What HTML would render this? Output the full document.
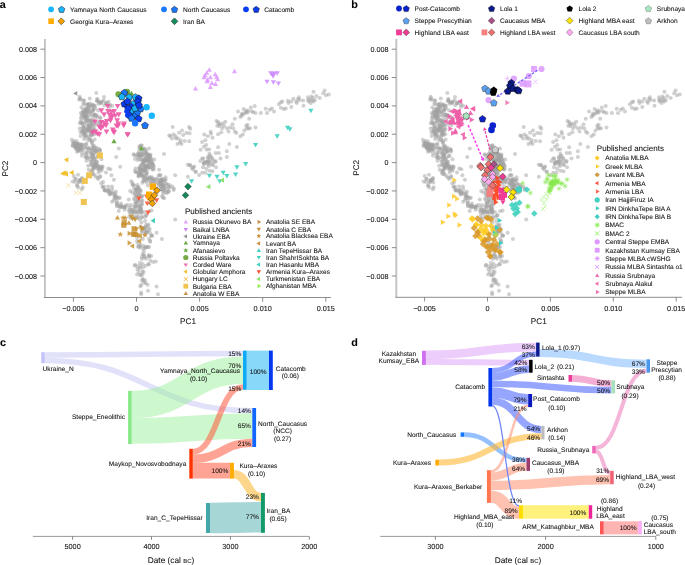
<!DOCTYPE html>
<html><head><meta charset="utf-8"><style>
html,body{margin:0;padding:0;background:#fff;width:685px;height:565px;overflow:hidden}
svg{display:block;will-change:transform}
text{font-family:"Liberation Sans",sans-serif;text-rendering:geometricPrecision;stroke:#111;stroke-width:0.12px;stroke-opacity:0.6}
</style></head><body>
<svg width="685" height="565" viewBox="0 0 685 565">
<line x1="44.90" y1="39.00" x2="44.90" y2="297.50" stroke="#c2c2c2" stroke-width="1.9"/>
<line x1="44.00" y1="297.50" x2="331.00" y2="297.50" stroke="#8c8c8c" stroke-width="1.0"/>
<line x1="40.40" y1="49.20" x2="44.70" y2="49.20" stroke="#6e6e6e" stroke-width="0.8"/>
<text x="37.00" y="51.79" font-size="7.2" text-anchor="end" fill="#111111">0.008</text>
<line x1="40.40" y1="77.55" x2="44.70" y2="77.55" stroke="#6e6e6e" stroke-width="0.8"/>
<text x="37.00" y="80.14" font-size="7.2" text-anchor="end" fill="#111111">0.006</text>
<line x1="40.40" y1="105.90" x2="44.70" y2="105.90" stroke="#6e6e6e" stroke-width="0.8"/>
<text x="37.00" y="108.49" font-size="7.2" text-anchor="end" fill="#111111">0.004</text>
<line x1="40.40" y1="134.25" x2="44.70" y2="134.25" stroke="#6e6e6e" stroke-width="0.8"/>
<text x="37.00" y="136.84" font-size="7.2" text-anchor="end" fill="#111111">0.002</text>
<line x1="40.40" y1="162.60" x2="44.70" y2="162.60" stroke="#6e6e6e" stroke-width="0.8"/>
<text x="37.00" y="165.19" font-size="7.2" text-anchor="end" fill="#111111">0</text>
<line x1="40.40" y1="190.95" x2="44.70" y2="190.95" stroke="#6e6e6e" stroke-width="0.8"/>
<text x="37.00" y="193.54" font-size="7.2" text-anchor="end" fill="#111111">−0.002</text>
<line x1="40.40" y1="219.30" x2="44.70" y2="219.30" stroke="#6e6e6e" stroke-width="0.8"/>
<text x="37.00" y="221.89" font-size="7.2" text-anchor="end" fill="#111111">−0.004</text>
<line x1="40.40" y1="247.65" x2="44.70" y2="247.65" stroke="#6e6e6e" stroke-width="0.8"/>
<text x="37.00" y="250.24" font-size="7.2" text-anchor="end" fill="#111111">−0.006</text>
<line x1="40.40" y1="276.00" x2="44.70" y2="276.00" stroke="#6e6e6e" stroke-width="0.8"/>
<text x="37.00" y="278.59" font-size="7.2" text-anchor="end" fill="#111111">−0.008</text>
<line x1="73.40" y1="297.50" x2="73.40" y2="301.70" stroke="#6e6e6e" stroke-width="0.8"/>
<text x="73.40" y="310.71" font-size="7.25" text-anchor="middle" fill="#111111">−0.005</text>
<line x1="136.50" y1="297.50" x2="136.50" y2="301.70" stroke="#6e6e6e" stroke-width="0.8"/>
<text x="136.50" y="310.71" font-size="7.25" text-anchor="middle" fill="#111111">0</text>
<line x1="199.60" y1="297.50" x2="199.60" y2="301.70" stroke="#6e6e6e" stroke-width="0.8"/>
<text x="199.60" y="310.71" font-size="7.25" text-anchor="middle" fill="#111111">0.005</text>
<line x1="262.70" y1="297.50" x2="262.70" y2="301.70" stroke="#6e6e6e" stroke-width="0.8"/>
<text x="262.70" y="310.71" font-size="7.25" text-anchor="middle" fill="#111111">0.010</text>
<line x1="325.80" y1="297.50" x2="325.80" y2="301.70" stroke="#6e6e6e" stroke-width="0.8"/>
<text x="325.80" y="310.71" font-size="7.25" text-anchor="middle" fill="#111111">0.015</text>
<text x="188.00" y="323.80" font-size="8.2" text-anchor="middle" fill="#111111">PC1</text>
<text x="0" y="0" font-size="8.2" text-anchor="middle" fill="#111111" transform="translate(7.60,168.60) rotate(-90)">PC2</text>
<line x1="396.30" y1="39.00" x2="396.30" y2="297.30" stroke="#c2c2c2" stroke-width="1.9"/>
<line x1="395.40" y1="297.30" x2="682.20" y2="297.30" stroke="#8c8c8c" stroke-width="1.0"/>
<line x1="391.80" y1="49.20" x2="396.10" y2="49.20" stroke="#6e6e6e" stroke-width="0.8"/>
<text x="388.40" y="51.79" font-size="7.2" text-anchor="end" fill="#111111">0.008</text>
<line x1="391.80" y1="77.55" x2="396.10" y2="77.55" stroke="#6e6e6e" stroke-width="0.8"/>
<text x="388.40" y="80.14" font-size="7.2" text-anchor="end" fill="#111111">0.006</text>
<line x1="391.80" y1="105.90" x2="396.10" y2="105.90" stroke="#6e6e6e" stroke-width="0.8"/>
<text x="388.40" y="108.49" font-size="7.2" text-anchor="end" fill="#111111">0.004</text>
<line x1="391.80" y1="134.25" x2="396.10" y2="134.25" stroke="#6e6e6e" stroke-width="0.8"/>
<text x="388.40" y="136.84" font-size="7.2" text-anchor="end" fill="#111111">0.002</text>
<line x1="391.80" y1="162.60" x2="396.10" y2="162.60" stroke="#6e6e6e" stroke-width="0.8"/>
<text x="388.40" y="165.19" font-size="7.2" text-anchor="end" fill="#111111">0</text>
<line x1="391.80" y1="190.95" x2="396.10" y2="190.95" stroke="#6e6e6e" stroke-width="0.8"/>
<text x="388.40" y="193.54" font-size="7.2" text-anchor="end" fill="#111111">−0.002</text>
<line x1="391.80" y1="219.30" x2="396.10" y2="219.30" stroke="#6e6e6e" stroke-width="0.8"/>
<text x="388.40" y="221.89" font-size="7.2" text-anchor="end" fill="#111111">−0.004</text>
<line x1="391.80" y1="247.65" x2="396.10" y2="247.65" stroke="#6e6e6e" stroke-width="0.8"/>
<text x="388.40" y="250.24" font-size="7.2" text-anchor="end" fill="#111111">−0.006</text>
<line x1="391.80" y1="276.00" x2="396.10" y2="276.00" stroke="#6e6e6e" stroke-width="0.8"/>
<text x="388.40" y="278.59" font-size="7.2" text-anchor="end" fill="#111111">−0.008</text>
<line x1="424.60" y1="297.30" x2="424.60" y2="301.50" stroke="#6e6e6e" stroke-width="0.8"/>
<text x="424.60" y="310.71" font-size="7.25" text-anchor="middle" fill="#111111">−0.005</text>
<line x1="487.50" y1="297.30" x2="487.50" y2="301.50" stroke="#6e6e6e" stroke-width="0.8"/>
<text x="487.50" y="310.71" font-size="7.25" text-anchor="middle" fill="#111111">0</text>
<line x1="550.40" y1="297.30" x2="550.40" y2="301.50" stroke="#6e6e6e" stroke-width="0.8"/>
<text x="550.40" y="310.71" font-size="7.25" text-anchor="middle" fill="#111111">0.005</text>
<line x1="613.30" y1="297.30" x2="613.30" y2="301.50" stroke="#6e6e6e" stroke-width="0.8"/>
<text x="613.30" y="310.71" font-size="7.25" text-anchor="middle" fill="#111111">0.010</text>
<line x1="676.20" y1="297.30" x2="676.20" y2="301.50" stroke="#6e6e6e" stroke-width="0.8"/>
<text x="676.20" y="310.71" font-size="7.25" text-anchor="middle" fill="#111111">0.015</text>
<text x="538.80" y="323.80" font-size="8.2" text-anchor="middle" fill="#111111">PC1</text>
<text x="0" y="0" font-size="8.2" text-anchor="middle" fill="#111111" transform="translate(359.20,167.80) rotate(-90)">PC2</text>
<text x="-0.30" y="8.00" font-size="10.8" font-weight="bold" fill="#000">a</text>
<text x="351.20" y="7.90" font-size="10.8" font-weight="bold" fill="#000">b</text>
<text x="0.00" y="346.00" font-size="10.8" font-weight="bold" fill="#000">c</text>
<text x="351.20" y="346.00" font-size="10.8" font-weight="bold" fill="#000">d</text>
<circle cx="51.10" cy="9.30" r="2.90" fill="#19b5fe"/>
<polygon points="61.60,6.24 64.83,8.59 63.60,12.39 59.60,12.39 58.37,8.59" fill="#19b5fe" stroke="#1a1a1a" stroke-width="0.5"/>
<text x="70.00" y="11.68" font-size="6.6" fill="#111111">Yamnaya North Caucasus</text>
<circle cx="164.00" cy="9.30" r="2.90" fill="#1a78ff"/>
<polygon points="174.50,6.24 177.73,8.59 176.50,12.39 172.50,12.39 171.27,8.59" fill="#1a78ff" stroke="#1a1a1a" stroke-width="0.5"/>
<text x="183.00" y="11.68" font-size="6.6" fill="#111111">North Caucasus</text>
<circle cx="246.00" cy="9.30" r="2.90" fill="#0a3cf0"/>
<polygon points="256.20,6.24 259.43,8.59 258.20,12.39 254.20,12.39 252.97,8.59" fill="#0a3cf0" stroke="#1a1a1a" stroke-width="0.5"/>
<text x="264.20" y="11.68" font-size="6.6" fill="#111111">Catacomb</text>
<rect x="48.30" y="18.40" width="5.60" height="5.60" fill="#ffab00"/>
<polygon points="61.30,17.90 64.70,21.30 61.30,24.70 57.90,21.30" fill="#f5a300" stroke="#1a1a1a" stroke-width="0.5"/>
<text x="70.00" y="23.68" font-size="6.6" fill="#111111">Georgia Kura–Araxes</text>
<polygon points="174.50,17.90 177.90,21.30 174.50,24.70 171.10,21.30" fill="#138a5a" stroke="#1a1a1a" stroke-width="0.5"/>
<text x="183.00" y="23.68" font-size="6.6" fill="#111111">Iran BA</text>
<circle cx="399.00" cy="8.50" r="2.90" fill="#0a22cc"/>
<polygon points="406.20,5.44 409.43,7.79 408.20,11.59 404.20,11.59 402.97,7.79" fill="#0a22cc" stroke="#1a1a1a" stroke-width="0.4"/>
<text x="414.60" y="10.88" font-size="6.6" fill="#111111">Post-Catacomb</text>
<polygon points="406.20,17.64 409.43,19.99 408.20,23.79 404.20,23.79 402.97,19.99" fill="#5aa0f0" stroke="#333" stroke-width="0.4"/>
<text x="414.60" y="23.08" font-size="6.6" fill="#111111">Steppe Prescythian</text>
<rect x="396.10" y="29.50" width="5.80" height="5.80" fill="#f03c96"/>
<polygon points="406.20,29.00 409.60,32.40 406.20,35.80 402.80,32.40" fill="#f03c96" stroke="#222" stroke-width="0.4"/>
<text x="414.60" y="34.78" font-size="6.6" fill="#111111">Highland LBA east</text>
<polygon points="491.60,5.44 494.83,7.79 493.60,11.59 489.60,11.59 488.37,7.79" fill="#0a1a88" stroke="#111" stroke-width="0.4"/>
<text x="500.00" y="10.88" font-size="6.6" fill="#111111">Lola 1</text>
<polygon points="491.60,17.30 495.00,20.70 491.60,24.10 488.20,20.70" fill="#a8508a" stroke="#222" stroke-width="0.4"/>
<text x="500.00" y="23.08" font-size="6.6" fill="#111111">Caucasus MBA</text>
<rect x="481.50" y="29.50" width="5.80" height="5.80" fill="#f58080"/>
<polygon points="491.60,29.00 495.00,32.40 491.60,35.80 488.20,32.40" fill="#f07070" stroke="#222" stroke-width="0.4"/>
<text x="500.00" y="34.78" font-size="6.6" fill="#111111">Highland LBA west</text>
<polygon points="569.70,5.44 572.93,7.79 571.70,11.59 567.70,11.59 566.47,7.79" fill="#000000"/>
<text x="578.50" y="10.88" font-size="6.6" fill="#111111">Lola 2</text>
<polygon points="569.70,17.30 573.10,20.70 569.70,24.10 566.30,20.70" fill="#ffe400" stroke="#222" stroke-width="0.4"/>
<text x="578.50" y="23.08" font-size="6.6" fill="#111111">Highland MBA east</text>
<polygon points="569.70,29.00 573.10,32.40 569.70,35.80 566.30,32.40" fill="#ffaaf0" stroke="#444" stroke-width="0.4"/>
<text x="578.50" y="34.78" font-size="6.6" fill="#111111">Caucasus LBA south</text>
<polygon points="648.40,5.44 651.63,7.79 650.40,11.59 646.40,11.59 645.17,7.79" fill="#a8e6c0" stroke="#666" stroke-width="0.4"/>
<text x="656.80" y="10.88" font-size="6.6" fill="#111111">Srubnaya</text>
<polygon points="648.40,17.64 651.63,19.99 650.40,23.79 646.40,23.79 645.17,19.99" fill="#bdbdbd" stroke="#666" stroke-width="0.4"/>
<text x="656.80" y="23.08" font-size="6.6" fill="#111111">Arkhon</text>
<text x="185.00" y="214.30" font-size="8.0" fill="#111111">Published ancients</text>
<polygon points="185.80,219.68 187.97,223.43 183.63,223.43" fill="#e0a0f8"/>
<text x="192.70" y="224.16" font-size="6.55" fill="#111111">Russia Okunevo BA</text>
<polygon points="185.80,231.82 183.63,228.07 187.97,228.07" fill="#cc88ff"/>
<text x="192.70" y="232.06" font-size="6.55" fill="#111111">Baikal LNBA</text>
<polygon points="183.30,236.30 187.05,234.13 187.05,238.47" fill="#999999"/>
<text x="192.70" y="238.66" font-size="6.55" fill="#111111">Ukraine EBA</text>
<polygon points="185.80,240.68 187.97,244.43 183.63,244.43" fill="#6aaa44"/>
<text x="192.70" y="245.16" font-size="6.55" fill="#111111">Yamnaya</text>
<polygon points="185.80,247.70 186.51,249.42 188.37,249.57 186.96,250.78 187.39,252.58 185.80,251.62 184.21,252.58 184.64,250.78 183.23,249.57 185.09,249.42" fill="#6aaa44"/>
<text x="192.70" y="252.76" font-size="6.55" fill="#111111">Afanasievo</text>
<circle cx="185.80" cy="257.50" r="2.60" fill="#77aa44"/>
<text x="192.70" y="259.86" font-size="6.55" fill="#111111">Russia Poltavka</text>
<polygon points="185.80,267.12 183.63,263.38 187.97,263.38" fill="#f070b0"/>
<text x="192.70" y="267.36" font-size="6.55" fill="#111111">Corded Ware</text>
<polygon points="183.30,271.70 187.05,269.53 187.05,273.87" fill="#f0c030"/>
<text x="192.70" y="274.06" font-size="6.55" fill="#111111">Globular Amphora</text>
<path d="M183.70,277.00L187.90,281.20M183.70,281.20L187.90,277.00" stroke="#f0b840" stroke-width="0.95" fill="none"/>
<text x="192.70" y="281.46" font-size="6.55" fill="#111111">Hungary LC</text>
<rect x="183.40" y="283.80" width="4.80" height="4.80" fill="#f0c450"/>
<text x="192.70" y="288.56" font-size="6.55" fill="#111111">Bulgaria EBA</text>
<polygon points="185.80,291.18 187.97,294.93 183.63,294.93" fill="#c89040"/>
<text x="192.70" y="295.66" font-size="6.55" fill="#111111">Anatolia W EBA</text>
<polygon points="261.30,221.90 257.55,224.07 257.55,219.73" fill="#c89040"/>
<text x="265.90" y="224.26" font-size="6.55" fill="#111111">Anatolia SE EBA</text>
<polygon points="258.80,231.53 256.63,227.78 260.97,227.78" fill="#c89040"/>
<text x="265.90" y="231.76" font-size="6.55" fill="#111111">Anatolia C EBA</text>
<polygon points="258.80,233.40 259.49,235.05 261.27,235.20 259.91,236.36 260.33,238.10 258.80,237.17 257.27,238.10 257.69,236.36 256.33,235.20 258.11,235.05" fill="#c89040"/>
<text x="265.90" y="238.36" font-size="6.55" fill="#111111">Anatolia Blacksea EBA</text>
<polygon points="256.30,243.40 260.05,241.23 260.05,245.57" fill="#c89040"/>
<text x="265.90" y="245.76" font-size="6.55" fill="#111111">Levant BA</text>
<polygon points="258.80,248.18 260.97,251.93 256.63,251.93" fill="#40d0c0"/>
<text x="265.90" y="252.66" font-size="6.55" fill="#111111">Iran TepeHissar BA</text>
<polygon points="258.80,259.62 256.63,255.88 260.97,255.88" fill="#40d0c0"/>
<text x="265.90" y="259.86" font-size="6.55" fill="#111111">Iran ShahrISokhta BA</text>
<polygon points="256.30,264.60 260.05,262.43 260.05,266.77" fill="#40d0c0"/>
<text x="265.90" y="266.96" font-size="6.55" fill="#111111">Iran Hasanlu MBA</text>
<polygon points="258.80,273.93 256.63,270.18 260.97,270.18" fill="#ff5030"/>
<text x="265.90" y="274.16" font-size="6.55" fill="#111111">Armenia Kura–Araxes</text>
<polygon points="256.30,279.00 260.05,276.83 260.05,281.17" fill="#90e070"/>
<text x="265.90" y="281.36" font-size="6.55" fill="#111111">Turkmenistan EBA</text>
<polygon points="261.30,286.10 257.55,288.27 257.55,283.93" fill="#90ee50"/>
<text x="265.90" y="288.46" font-size="6.55" fill="#111111">Afghanistan MBA</text>
<text x="596.80" y="151.00" font-size="8.0" fill="#111111">Published ancients</text>
<polygon points="597.20,155.40 599.80,158.00 597.20,160.60 594.60,158.00" fill="#ffcc33"/>
<text x="605.20" y="160.36" font-size="6.55" fill="#111111">Anatolia MLBA</text>
<polygon points="599.70,166.38 595.95,168.55 595.95,164.21" fill="#ffcc33"/>
<text x="605.20" y="168.74" font-size="6.55" fill="#111111">Greek MLBA</text>
<polygon points="597.20,172.16 599.80,174.76 597.20,177.36 594.60,174.76" fill="#cc9944"/>
<text x="605.20" y="177.12" font-size="6.55" fill="#111111">Levant MLBA</text>
<polygon points="594.70,183.14 598.45,180.97 598.45,185.31" fill="#ff5544"/>
<text x="605.20" y="185.50" font-size="6.55" fill="#111111">Armenia MBA</text>
<polygon points="599.70,191.52 595.95,193.69 595.95,189.35" fill="#ff6655"/>
<text x="605.20" y="193.88" font-size="6.55" fill="#111111">Armenia LBA</text>
<circle cx="597.20" cy="199.90" r="2.60" fill="#44d0c0"/>
<text x="605.20" y="202.26" font-size="6.55" fill="#111111">Iran HajjiFiruz IA</text>
<polygon points="599.70,208.28 595.95,210.45 595.95,206.11" fill="#44d0c0"/>
<text x="605.20" y="210.64" font-size="6.55" fill="#111111">IRN DinkhaTepe BIA A</text>
<polygon points="597.20,214.06 599.80,216.66 597.20,219.26 594.60,216.66" fill="#44d0c0"/>
<text x="605.20" y="219.02" font-size="6.55" fill="#111111">IRN DinkhaTepe BIA B</text>
<path d="M594.70,225.04L599.70,225.04M595.43,223.27L598.97,226.81M597.20,222.54L597.20,227.54M598.97,223.27L595.43,226.81" stroke="#88ee55" stroke-width="0.95" fill="none"/>
<text x="605.20" y="227.40" font-size="6.55" fill="#111111">BMAC</text>
<path d="M595.20,231.42L599.20,235.42M595.20,235.42L599.20,231.42" stroke="#88ee55" stroke-width="0.95" fill="none"/>
<text x="605.20" y="235.78" font-size="6.55" fill="#111111">BMAC 2</text>
<circle cx="597.20" cy="241.80" r="2.60" fill="#dd99ff"/>
<text x="605.20" y="244.16" font-size="6.55" fill="#111111">Central Steppe EMBA</text>
<rect x="594.80" y="247.78" width="4.80" height="4.80" fill="#dd99ff"/>
<text x="605.20" y="252.54" font-size="6.55" fill="#111111">Kazakhstan Kumsay EBA</text>
<path d="M594.70,258.56L599.70,258.56M595.43,256.79L598.97,260.33M597.20,256.06L597.20,261.06M598.97,256.79L595.43,260.33" stroke="#dd99ff" stroke-width="0.95" fill="none"/>
<text x="605.20" y="260.92" font-size="6.55" fill="#111111">Steppe MLBA cWSHG</text>
<path d="M595.20,264.94L599.20,268.94M595.20,268.94L599.20,264.94" stroke="#dd99ff" stroke-width="0.95" fill="none"/>
<text x="605.20" y="269.30" font-size="6.55" fill="#111111">Russia MLBA Sintashta o1</text>
<polygon points="597.20,273.19 599.37,276.94 595.03,276.94" fill="#f070b0"/>
<text x="605.20" y="277.68" font-size="6.55" fill="#111111">Russia Srubnaya</text>
<polygon points="594.70,283.70 598.45,281.53 598.45,285.87" fill="#f070b0"/>
<text x="605.20" y="286.06" font-size="6.55" fill="#111111">Srubnaya Alakul</text>
<polygon points="599.70,292.08 595.95,294.25 595.95,289.91" fill="#f070b0"/>
<text x="605.20" y="294.44" font-size="6.55" fill="#111111">Steppe MLBA</text>
<line x1="32.90" y1="536.40" x2="309.30" y2="536.40" stroke="#9a9a9a" stroke-width="1.0"/>
<line x1="72.60" y1="536.40" x2="72.60" y2="539.80" stroke="#6e6e6e" stroke-width="0.8"/>
<text x="72.60" y="549.33" font-size="7.3" text-anchor="middle" fill="#111111">5000</text>
<line x1="151.50" y1="536.40" x2="151.50" y2="539.80" stroke="#6e6e6e" stroke-width="0.8"/>
<text x="151.50" y="549.33" font-size="7.3" text-anchor="middle" fill="#111111">4000</text>
<line x1="230.40" y1="536.40" x2="230.40" y2="539.80" stroke="#6e6e6e" stroke-width="0.8"/>
<text x="230.40" y="549.33" font-size="7.3" text-anchor="middle" fill="#111111">3000</text>
<line x1="309.30" y1="536.40" x2="309.30" y2="539.80" stroke="#6e6e6e" stroke-width="0.8"/>
<text x="309.30" y="549.33" font-size="7.3" text-anchor="middle" fill="#111111">2000</text>
<text x="171" y="563.2" font-size="8.3" text-anchor="middle" fill="#111111">Date (cal <tspan font-size="5.9">BC</tspan>)</text>
<path d="M44.80,354.90C143.90,354.90 143.90,353.45 243.00,353.45" fill="none" stroke="#b8b8f4" stroke-width="5.55" stroke-opacity="0.42"/>
<path d="M44.80,360.40C148.55,360.40 148.55,410.75 252.30,410.75" fill="none" stroke="#b8b8f4" stroke-width="5.55" stroke-opacity="0.42"/>
<path d="M131.70,404.50C187.35,404.50 187.35,370.25 243.00,370.25" fill="none" stroke="#9cf09c" stroke-width="27.45" stroke-opacity="0.5"/>
<path d="M131.70,431.00C192.00,431.00 192.00,426.05 252.30,426.05" fill="none" stroke="#9cf09c" stroke-width="25.55" stroke-opacity="0.5"/>
<path d="M192.80,451.70C217.90,451.70 217.90,387.00 243.00,387.00" fill="none" stroke="#ff5a3c" stroke-width="5.70" stroke-opacity="0.55"/>
<path d="M192.80,458.70C222.55,458.70 222.55,442.80 252.30,442.80" fill="none" stroke="#ff5a3c" stroke-width="8.30" stroke-opacity="0.55"/>
<path d="M192.80,462.80C211.55,462.80 211.55,462.80 230.30,462.80L230.30,478.60C211.55,478.60 211.55,478.60 192.80,478.60Z" fill="#ff5a3c" fill-opacity="0.55"/>
<path d="M233.90,474.25C247.45,474.25 247.45,497.25 261.00,497.25" fill="none" stroke="#fdc45a" stroke-width="8.70" stroke-opacity="0.7"/>
<path d="M210.00,518.00C235.50,518.00 235.50,517.20 261.00,517.20" fill="none" stroke="#a6d6d6" stroke-width="30.60"/>
<rect x="246.70" y="350.60" width="22.30" height="39.40" fill="#88d8fa"/>
<rect x="41.20" y="352.20" width="3.60" height="11.00" fill="#c4c4f6"/>
<rect x="128.10" y="391.00" width="3.60" height="53.00" fill="#86e886"/>
<rect x="189.30" y="448.80" width="3.50" height="29.80" fill="#ff3300"/>
<rect x="243.00" y="350.60" width="3.70" height="39.20" fill="#0faaf5"/>
<rect x="269.00" y="350.60" width="3.80" height="39.40" fill="#0537ef"/>
<rect x="252.30" y="408.00" width="3.80" height="39.00" fill="#1166ff"/>
<rect x="230.10" y="462.80" width="3.80" height="15.80" fill="#ffab00"/>
<rect x="206.00" y="503.00" width="4.00" height="30.00" fill="#44a6a6"/>
<rect x="261.00" y="492.90" width="3.90" height="39.90" fill="#129a68"/>
<text x="42.60" y="371.27" font-size="6.58" fill="#111111">Ukraine_N</text>
<text x="125.00" y="419.47" font-size="6.58" text-anchor="end" fill="#111111">Steppe_Eneolithic</text>
<text x="200.00" y="373.07" font-size="6.58" text-anchor="middle" fill="#111111">Yamnaya_North_Caucasus</text>
<text x="198.50" y="380.67" font-size="6.58" text-anchor="middle" fill="#111111">(0.10)</text>
<text x="290.80" y="370.67" font-size="6.58" text-anchor="middle" fill="#111111">Catacomb</text>
<text x="290.30" y="378.47" font-size="6.58" text-anchor="middle" fill="#111111">(0.06)</text>
<text x="282.60" y="425.87" font-size="6.58" text-anchor="middle" fill="#111111">North_Caucasus</text>
<text x="282.60" y="433.37" font-size="6.58" text-anchor="middle" fill="#111111">(NCC)</text>
<text x="282.60" y="440.77" font-size="6.58" text-anchor="middle" fill="#111111">(0.27)</text>
<text x="186.30" y="465.97" font-size="6.58" text-anchor="end" fill="#111111">Maykop_Novosvobodnaya</text>
<text x="258.40" y="467.77" font-size="6.58" text-anchor="middle" fill="#111111">Kura–Araxes</text>
<text x="256.50" y="475.67" font-size="6.58" text-anchor="middle" fill="#111111">(0.10)</text>
<text x="278.40" y="513.27" font-size="6.58" text-anchor="middle" fill="#111111">Iran_BA</text>
<text x="278.00" y="521.17" font-size="6.58" text-anchor="middle" fill="#111111">(0.65)</text>
<text x="202.60" y="520.37" font-size="6.58" text-anchor="end" fill="#111111">Iran_C_TepeHissar</text>
<text x="241.30" y="356.27" font-size="6.58" text-anchor="end" fill="#111111">15%</text>
<text x="241.30" y="367.97" font-size="6.58" text-anchor="end" fill="#111111">70%</text>
<text x="241.30" y="391.07" font-size="6.58" text-anchor="end" fill="#111111">15%</text>
<text x="250.90" y="412.77" font-size="6.58" text-anchor="end" fill="#111111">14%</text>
<text x="250.90" y="427.77" font-size="6.58" text-anchor="end" fill="#111111">65%</text>
<text x="250.90" y="445.87" font-size="6.58" text-anchor="end" fill="#111111">21%</text>
<text x="228.30" y="473.37" font-size="6.58" text-anchor="end" fill="#111111">100%</text>
<text x="258.90" y="498.97" font-size="6.58" text-anchor="end" fill="#111111">23%</text>
<text x="258.90" y="519.37" font-size="6.58" text-anchor="end" fill="#111111">77%</text>
<text x="258.20" y="374.07" font-size="6.58" text-anchor="middle" fill="#111111">100%</text>
<line x1="380.20" y1="536.40" x2="655.80" y2="536.40" stroke="#9a9a9a" stroke-width="1.0"/>
<line x1="435.40" y1="536.40" x2="435.40" y2="539.80" stroke="#6e6e6e" stroke-width="0.8"/>
<text x="435.40" y="549.33" font-size="7.3" text-anchor="middle" fill="#111111">3000</text>
<line x1="545.60" y1="536.40" x2="545.60" y2="539.80" stroke="#6e6e6e" stroke-width="0.8"/>
<text x="545.60" y="549.33" font-size="7.3" text-anchor="middle" fill="#111111">2000</text>
<line x1="655.80" y1="536.40" x2="655.80" y2="539.80" stroke="#6e6e6e" stroke-width="0.8"/>
<text x="655.80" y="549.33" font-size="7.3" text-anchor="middle" fill="#111111">1000</text>
<text x="518" y="563.2" font-size="8.3" text-anchor="middle" fill="#111111">Date (cal <tspan font-size="5.9">BC</tspan>)</text>
<path d="M425.90,354.85C481.00,354.85 481.00,347.10 536.10,347.10" fill="none" stroke="#d890f8" stroke-width="8.55" stroke-opacity="0.45"/>
<path d="M425.90,361.90C477.50,361.90 477.50,362.60 529.10,362.60" fill="none" stroke="#d890f8" stroke-width="5.80" stroke-opacity="0.45"/>
<path d="M492.10,370.60C514.10,370.60 514.10,354.10 536.10,354.10" fill="none" stroke="#4a66ff" stroke-width="5.10" stroke-opacity="0.58"/>
<path d="M492.10,376.90C510.60,376.90 510.60,369.05 529.10,369.05" fill="none" stroke="#4a66ff" stroke-width="7.35" stroke-opacity="0.58"/>
<path d="M492.10,383.85C551.75,383.85 551.75,390.15 611.40,390.15" fill="none" stroke="#4a66ff" stroke-width="6.50" stroke-opacity="0.58"/>
<path d="M492.10,392.25C510.15,392.25 510.15,399.30 528.20,399.30" fill="none" stroke="#4a66ff" stroke-width="10.25" stroke-opacity="0.58"/>
<path d="M492.10,401.10C516.75,401.10 516.75,429.55 541.40,429.55" fill="none" stroke="#4a66ff" stroke-width="7.35" stroke-opacity="0.58"/>
<path d="M539.60,352.95C593.05,352.95 593.05,363.80 646.50,363.80" fill="none" stroke="#8cc0ff" stroke-width="8.15" stroke-opacity="0.6"/>
<path d="M572.00,378.35C591.70,378.35 591.70,383.60 611.40,383.60" fill="none" stroke="#ec78b8" stroke-width="6.65" stroke-opacity="0.6"/>
<path d="M595.80,447.75C621.15,447.75 621.15,370.50 646.50,370.50" fill="none" stroke="#ec78b8" stroke-width="4.05" stroke-opacity="0.55"/>
<path d="M595.80,451.50C603.00,451.50 603.00,472.95 610.20,472.95" fill="none" stroke="#ec78b8" stroke-width="3.95" stroke-opacity="0.55"/>
<path d="M464.10,434.60C495.30,434.60 495.30,460.20 526.50,460.20" fill="none" stroke="#3d8cff" stroke-width="4.60" stroke-opacity="0.55"/>
<path d="M438.90,462.60C490.15,462.60 490.15,436.30 541.40,436.30" fill="none" stroke="#ffb733" stroke-width="6.00" stroke-opacity="0.6"/>
<path d="M490.90,471.40C509.55,471.40 509.55,405.75 528.20,405.75" fill="none" stroke="#ff9070" stroke-width="2.55" stroke-opacity="0.55"/>
<path d="M490.90,476.60C508.70,476.60 508.70,466.75 526.50,466.75" fill="none" stroke="#ff9070" stroke-width="8.15" stroke-opacity="0.55"/>
<path d="M490.90,485.40C550.55,485.40 550.55,479.60 610.20,479.60" fill="none" stroke="#ff9070" stroke-width="9.40" stroke-opacity="0.55"/>
<path d="M490.90,496.55C504.95,496.55 504.95,512.70 519.00,512.70" fill="none" stroke="#ff9070" stroke-width="12.35" stroke-opacity="0.55"/>
<path d="M492.1,405.7 C505,405.7 505,505.9 519,505.9" stroke="#7086f5" stroke-width="1.3" fill="none"/>
<rect x="523.00" y="505.20" width="65.80" height="13.50" fill="#fff27c"/>
<rect x="603.70" y="521.30" width="34.40" height="13.10" fill="#ffb4b4"/>
<rect x="422.00" y="350.80" width="3.90" height="14.10" fill="#d070f0"/>
<rect x="488.40" y="368.00" width="3.70" height="38.50" fill="#0537ef"/>
<rect x="460.60" y="432.40" width="3.50" height="4.40" fill="#1177ff"/>
<rect x="435.30" y="459.70" width="3.60" height="5.80" fill="#ffab00"/>
<rect x="486.90" y="470.20" width="4.00" height="32.70" fill="#ff7650"/>
<rect x="536.10" y="342.60" width="3.50" height="14.00" fill="#0a1a8c"/>
<rect x="529.10" y="359.80" width="3.50" height="12.90" fill="#000000"/>
<rect x="528.20" y="394.00" width="3.90" height="13.10" fill="#0a18c0"/>
<rect x="541.40" y="425.90" width="3.10" height="13.50" fill="#bcbcbc"/>
<rect x="526.50" y="457.80" width="3.50" height="13.10" fill="#9c3c70"/>
<rect x="568.50" y="375.00" width="3.50" height="6.70" fill="#ea3a9a"/>
<rect x="611.40" y="380.30" width="3.70" height="13.10" fill="#a8e0bc"/>
<rect x="592.20" y="445.90" width="3.60" height="7.50" fill="#ee66b8"/>
<rect x="646.50" y="359.30" width="3.50" height="13.40" fill="#4a98ee"/>
<rect x="610.20" y="470.90" width="3.50" height="13.30" fill="#ee6272"/>
<rect x="519.00" y="505.20" width="4.00" height="13.50" fill="#ffdd00"/>
<rect x="588.80" y="505.20" width="3.40" height="13.50" fill="#ee2299"/>
<rect x="600.00" y="521.30" width="3.70" height="13.10" fill="#ff5656"/>
<rect x="638.10" y="521.00" width="3.80" height="13.40" fill="#ffb0f5"/>
<text x="398.90" y="356.07" font-size="6.58" text-anchor="middle" fill="#111111">Kazakhstan</text>
<text x="398.90" y="363.17" font-size="6.58" text-anchor="middle" fill="#111111">Kumsay_EBA</text>
<text x="485.20" y="389.27" font-size="6.58" text-anchor="end" fill="#111111">Catacomb</text>
<text x="456.20" y="436.97" font-size="6.58" text-anchor="end" fill="#111111">North_Caucasus</text>
<text x="431.00" y="464.97" font-size="6.58" text-anchor="end" fill="#111111">Kura–Araxes</text>
<text x="482.30" y="488.97" font-size="6.58" text-anchor="end" fill="#111111">Kura–Araxes_Berkaber</text>
<text x="484.00" y="518.77" font-size="6.58" text-anchor="middle" fill="#111111">Highland_MBA_east</text>
<text x="484.80" y="526.67" font-size="6.58" text-anchor="middle" fill="#111111">(0.10)</text>
<text x="541.90" y="350.27" font-size="6.58" fill="#111111">Lola_1</text>
<text x="562.90" y="350.27" font-size="6.58" fill="#111111">(0.97)</text>
<text x="534.40" y="368.67" font-size="6.58" fill="#111111">Lola_2</text>
<text x="557.00" y="368.57" font-size="6.58" fill="#111111">(0.21)</text>
<text x="564.40" y="380.37" font-size="6.58" text-anchor="end" fill="#111111">Sintashta</text>
<text x="616.30" y="388.77" font-size="6.58" fill="#111111">Srubnaya</text>
<text x="630.00" y="397.57" font-size="6.58" text-anchor="middle" fill="#111111">(0.29)</text>
<text x="533.10" y="401.07" font-size="6.58" fill="#111111">Post_Catacomb</text>
<text x="556.80" y="409.77" font-size="6.58" text-anchor="middle" fill="#111111">(0.10)</text>
<text x="547.10" y="431.77" font-size="6.58" fill="#111111">Arkhon</text>
<text x="556.80" y="439.67" font-size="6.58" text-anchor="middle" fill="#111111">(0.14)</text>
<text x="589.30" y="452.27" font-size="6.58" text-anchor="end" fill="#111111">Russia_Srubnaya</text>
<text x="531.90" y="464.57" font-size="6.58" fill="#111111">Caucasus_MBA</text>
<text x="555.90" y="473.27" font-size="6.58" text-anchor="middle" fill="#111111">(0.19)</text>
<text x="615.80" y="479.47" font-size="6.58" fill="#111111">Highland_LBA_west</text>
<text x="646.50" y="487.87" font-size="6.58" text-anchor="middle" fill="#111111">(0.24)</text>
<text x="667.00" y="365.17" font-size="6.58" text-anchor="middle" fill="#111111">Steppe</text>
<text x="666.60" y="371.97" font-size="6.58" text-anchor="middle" fill="#111111">Prescytian</text>
<text x="667.00" y="380.27" font-size="6.58" text-anchor="middle" fill="#111111">(0.88)</text>
<text x="609.50" y="502.67" font-size="6.58" text-anchor="middle" fill="#111111">(0.86)</text>
<text x="596.70" y="510.57" font-size="6.58" fill="#111111">Highland</text>
<text x="596.20" y="518.07" font-size="6.58" fill="#111111">LBA_east</text>
<text x="593.90" y="529.47" font-size="6.58" text-anchor="end" fill="#111111">ARM_Katnaghbiur_MBA</text>
<text x="659.90" y="520.07" font-size="6.58" text-anchor="middle" fill="#111111">(0.75)</text>
<text x="643.70" y="526.87" font-size="6.58" fill="#111111">Caucasus</text>
<text x="643.70" y="533.57" font-size="6.58" fill="#111111">LBA_south</text>
<text x="534.80" y="349.37" font-size="6.58" text-anchor="end" fill="#111111">63%</text>
<text x="534.80" y="356.77" font-size="6.58" text-anchor="end" fill="#111111">37%</text>
<text x="527.40" y="364.77" font-size="6.58" text-anchor="end" fill="#111111">42%</text>
<text x="527.40" y="372.17" font-size="6.58" text-anchor="end" fill="#111111">58%</text>
<text x="526.60" y="401.57" font-size="6.58" text-anchor="end" fill="#111111">79%</text>
<text x="526.60" y="410.67" font-size="6.58" text-anchor="end" fill="#111111">21%</text>
<text x="610.20" y="385.27" font-size="6.58" text-anchor="end" fill="#111111">50%</text>
<text x="610.20" y="393.17" font-size="6.58" text-anchor="end" fill="#111111">50%</text>
<text x="644.90" y="365.97" font-size="6.58" text-anchor="end" fill="#111111">67%</text>
<text x="644.90" y="374.07" font-size="6.58" text-anchor="end" fill="#111111">33%</text>
<text x="540.20" y="431.27" font-size="6.58" text-anchor="end" fill="#111111">54%</text>
<text x="540.20" y="439.67" font-size="6.58" text-anchor="end" fill="#111111">46%</text>
<text x="525.20" y="461.87" font-size="6.58" text-anchor="end" fill="#111111">36%</text>
<text x="525.20" y="470.67" font-size="6.58" text-anchor="end" fill="#111111">64%</text>
<text x="609.30" y="473.27" font-size="6.58" text-anchor="end" fill="#111111">31%</text>
<text x="609.10" y="481.97" font-size="6.58" text-anchor="end" fill="#111111">69%</text>
<text x="522.00" y="502.97" font-size="6.58" text-anchor="end" fill="#111111">11%</text>
<text x="517.70" y="512.77" font-size="6.58" text-anchor="end" fill="#111111">89%</text>
<text x="586.30" y="514.57" font-size="6.58" text-anchor="end" fill="#111111">100%</text>
<text x="636.50" y="530.17" font-size="6.58" text-anchor="end" fill="#111111">100%</text>
<g id="ga" fill="#a2a2a2" fill-opacity="0.5"><circle cx="172.7" cy="127.1" r="2.0"/><circle cx="189.1" cy="126.9" r="2.0"/><circle cx="190.3" cy="128.7" r="2.0"/><circle cx="179.1" cy="132.7" r="2.0"/><circle cx="183.1" cy="135.1" r="2.0"/><circle cx="186.3" cy="133.0" r="2.0"/><circle cx="189.5" cy="133.3" r="2.0"/><circle cx="170.4" cy="135.9" r="2.0"/><circle cx="175.6" cy="136.2" r="2.0"/><circle cx="171.9" cy="138.6" r="2.0"/><circle cx="175.9" cy="138.6" r="2.0"/><circle cx="180.7" cy="140.2" r="2.0"/><circle cx="179.9" cy="142.5" r="2.0"/><circle cx="184.7" cy="141.0" r="2.0"/><circle cx="189.1" cy="141.3" r="2.0"/><circle cx="177.5" cy="144.1" r="2.0"/><circle cx="181.5" cy="144.1" r="2.0"/><circle cx="173.5" cy="134.5" r="2.0"/><circle cx="178.0" cy="138.5" r="2.0"/><circle cx="182.0" cy="130.5" r="2.0"/><circle cx="204.3" cy="134.6" r="2.0"/><circle cx="207.8" cy="136.2" r="2.0"/><circle cx="210.6" cy="131.7" r="2.0"/><circle cx="212.5" cy="137.8" r="2.0"/><circle cx="205.4" cy="140.2" r="2.0"/><circle cx="211.0" cy="133.8" r="2.0"/><circle cx="218.1" cy="134.3" r="2.0"/><circle cx="216.5" cy="121.0" r="2.0"/><circle cx="218.9" cy="123.4" r="2.0"/><circle cx="217.3" cy="125.8" r="2.0"/><circle cx="220.5" cy="124.2" r="2.0"/><circle cx="222.9" cy="123.4" r="2.0"/><circle cx="225.3" cy="121.8" r="2.0"/><circle cx="222.1" cy="128.2" r="2.0"/><circle cx="221.3" cy="132.2" r="2.0"/><circle cx="226.9" cy="128.2" r="2.0"/><circle cx="230.1" cy="127.4" r="2.0"/><circle cx="232.5" cy="124.2" r="2.0"/><circle cx="233.2" cy="128.2" r="2.0"/><circle cx="234.8" cy="131.4" r="2.0"/><circle cx="228.5" cy="131.4" r="2.0"/><circle cx="236.4" cy="133.0" r="2.0"/><circle cx="240.4" cy="136.2" r="2.0"/><circle cx="242.8" cy="134.6" r="2.0"/><circle cx="244.4" cy="130.6" r="2.0"/><circle cx="247.6" cy="124.7" r="2.0"/><circle cx="246.8" cy="128.2" r="2.0"/><circle cx="250.0" cy="128.2" r="2.0"/><circle cx="255.5" cy="127.4" r="2.0"/><circle cx="249.2" cy="118.7" r="2.0"/><circle cx="234.8" cy="118.7" r="2.0"/><circle cx="238.0" cy="111.5" r="2.0"/><circle cx="240.4" cy="117.1" r="2.0"/><circle cx="242.8" cy="114.7" r="2.0"/><circle cx="243.6" cy="109.1" r="2.0"/><circle cx="246.0" cy="112.3" r="2.0"/><circle cx="248.4" cy="110.7" r="2.0"/><circle cx="250.8" cy="107.5" r="2.0"/><circle cx="254.7" cy="105.9" r="2.0"/><circle cx="253.2" cy="112.3" r="2.0"/><circle cx="255.5" cy="113.1" r="2.0"/><circle cx="242.0" cy="113.6" r="2.0"/><circle cx="218.0" cy="122.0" r="2.0"/><circle cx="219.5" cy="126.0" r="2.0"/><circle cx="224.0" cy="126.0" r="2.0"/><circle cx="200.6" cy="149.7" r="2.0"/><circle cx="164.0" cy="154.0" r="2.0"/><circle cx="209.4" cy="153.7" r="2.0"/><circle cx="207.8" cy="156.9" r="2.0"/><circle cx="212.5" cy="158.5" r="2.0"/><circle cx="206.2" cy="161.7" r="2.0"/><circle cx="210.2" cy="161.7" r="2.0"/><circle cx="212.5" cy="164.0" r="2.0"/><circle cx="202.2" cy="158.5" r="2.0"/><circle cx="215.7" cy="152.9" r="2.0"/><circle cx="218.9" cy="152.9" r="2.0"/><circle cx="218.1" cy="147.3" r="2.0"/><circle cx="220.5" cy="158.5" r="2.0"/><circle cx="226.9" cy="156.9" r="2.0"/><circle cx="226.9" cy="151.3" r="2.0"/><circle cx="229.3" cy="144.1" r="2.0"/><circle cx="236.9" cy="147.0" r="2.0"/><circle cx="191.8" cy="168.0" r="2.0"/><circle cx="194.2" cy="166.4" r="2.0"/><circle cx="195.8" cy="172.0" r="2.0"/><circle cx="203.0" cy="167.2" r="2.0"/><circle cx="206.2" cy="168.8" r="2.0"/><circle cx="202.2" cy="172.8" r="2.0"/><circle cx="205.4" cy="172.8" r="2.0"/><circle cx="212.5" cy="171.2" r="2.0"/><circle cx="187.9" cy="176.8" r="2.0"/><circle cx="175.1" cy="175.2" r="2.0"/><circle cx="165.6" cy="177.3" r="2.0"/><circle cx="208.0" cy="158.0" r="2.0"/><circle cx="210.0" cy="155.5" r="2.0"/><circle cx="213.0" cy="160.5" r="2.0"/><circle cx="204.0" cy="164.0" r="2.0"/><circle cx="209.0" cy="166.0" r="2.0"/><circle cx="193.0" cy="169.5" r="2.0"/><circle cx="246.2" cy="110.5" r="2.0"/><circle cx="244.9" cy="113.3" r="2.0"/><circle cx="247.6" cy="112.6" r="2.0"/><circle cx="251.8" cy="111.2" r="2.0"/><circle cx="241.4" cy="115.4" r="2.0"/><circle cx="260.8" cy="113.0" r="2.0"/><circle cx="265.7" cy="108.8" r="2.0"/><circle cx="267.0" cy="113.0" r="2.0"/><circle cx="269.8" cy="109.8" r="2.0"/><circle cx="271.9" cy="108.4" r="2.0"/><circle cx="274.0" cy="111.6" r="2.0"/><circle cx="278.8" cy="104.3" r="2.0"/><circle cx="280.9" cy="102.2" r="2.0"/><circle cx="282.3" cy="101.5" r="2.0"/><circle cx="280.9" cy="107.7" r="2.0"/><circle cx="283.7" cy="109.1" r="2.0"/><circle cx="285.8" cy="108.4" r="2.0"/><circle cx="287.9" cy="100.8" r="2.0"/><circle cx="288.5" cy="102.9" r="2.0"/><circle cx="291.3" cy="101.5" r="2.0"/><circle cx="291.3" cy="107.0" r="2.0"/><circle cx="293.4" cy="98.7" r="2.0"/><circle cx="296.2" cy="101.5" r="2.0"/><circle cx="296.9" cy="102.9" r="2.0"/><circle cx="298.9" cy="97.3" r="2.0"/><circle cx="299.6" cy="100.1" r="2.0"/><circle cx="303.1" cy="100.5" r="2.0"/><circle cx="303.5" cy="105.7" r="2.0"/><circle cx="308.0" cy="97.3" r="2.0"/><circle cx="308.7" cy="101.5" r="2.0"/><circle cx="310.0" cy="99.4" r="2.0"/><circle cx="310.7" cy="102.9" r="2.0"/><circle cx="312.8" cy="98.0" r="2.0"/><circle cx="313.5" cy="91.8" r="2.0"/><circle cx="314.9" cy="100.1" r="2.0"/><circle cx="316.3" cy="96.0" r="2.0"/><circle cx="319.7" cy="98.0" r="2.0"/><circle cx="323.2" cy="93.2" r="2.0"/><circle cx="324.6" cy="90.4" r="2.0"/><circle cx="326.0" cy="95.3" r="2.0"/><circle cx="328.8" cy="94.6" r="2.0"/><circle cx="313.5" cy="101.5" r="2.0"/><circle cx="311.4" cy="96.6" r="2.0"/><circle cx="298.0" cy="99.0" r="2.0"/><circle cx="308.0" cy="100.0" r="2.0"/><circle cx="312.0" cy="100.5" r="2.0"/><circle cx="248.3" cy="128.5" r="2.0"/><circle cx="246.2" cy="125.8" r="2.0"/><circle cx="118.8" cy="148.5" r="2.0"/><circle cx="116.2" cy="156.9" r="2.0"/><circle cx="120.2" cy="166.8" r="2.0"/><circle cx="169.3" cy="135.6" r="2.0"/><circle cx="148.9" cy="148.5" r="2.0"/><circle cx="154.2" cy="159.5" r="2.0"/><circle cx="159.1" cy="169.7" r="2.0"/><circle cx="110.4" cy="169.2" r="2.0"/><circle cx="175.2" cy="219.5" r="2.0"/><circle cx="151.6" cy="210.6" r="2.0"/><circle cx="108.3" cy="168.5" r="2.0"/><circle cx="111.4" cy="175.3" r="2.0"/><circle cx="113.9" cy="179.7" r="2.0"/><circle cx="97.2" cy="177.8" r="2.0"/><circle cx="128.8" cy="199.5" r="2.0"/><circle cx="161.9" cy="238.9" r="2.0"/><circle cx="156.6" cy="232.7" r="2.0"/><circle cx="156.6" cy="286.4" r="2.0"/><circle cx="158.0" cy="294.2" r="2.0"/><circle cx="153.1" cy="261.9" r="2.0"/><circle cx="155.8" cy="261.6" r="2.0"/><circle cx="96.3" cy="93.1" r="2.0"/><circle cx="97.2" cy="98.7" r="2.0"/><circle cx="103.7" cy="100.6" r="2.0"/><circle cx="108.5" cy="101.8" r="2.0"/><circle cx="112.1" cy="105.7" r="2.0"/><circle cx="100.9" cy="103.0" r="2.0"/><circle cx="95.0" cy="105.4" r="2.0"/><circle cx="104.0" cy="97.0" r="2.0"/><circle cx="141.4" cy="145.4" r="2.0"/><circle cx="80.8" cy="99.8" r="2.0"/><circle cx="80.0" cy="98.3" r="2.0"/><circle cx="79.7" cy="96.7" r="2.0"/><circle cx="83.4" cy="100.6" r="2.0"/><circle cx="79.0" cy="99.6" r="2.0"/><circle cx="89.8" cy="98.5" r="2.0"/><circle cx="83.7" cy="133.5" r="2.0"/><circle cx="84.8" cy="115.9" r="2.0"/><circle cx="89.1" cy="115.2" r="2.0"/><circle cx="88.4" cy="112.3" r="2.0"/><circle cx="83.2" cy="111.9" r="2.0"/><circle cx="84.6" cy="122.5" r="2.0"/><circle cx="84.3" cy="126.7" r="2.0"/><circle cx="83.2" cy="131.3" r="2.0"/><circle cx="93.5" cy="128.0" r="2.0"/><circle cx="86.4" cy="120.6" r="2.0"/><circle cx="87.7" cy="104.6" r="2.0"/><circle cx="91.6" cy="130.2" r="2.0"/><circle cx="84.1" cy="139.0" r="2.0"/><circle cx="88.7" cy="125.9" r="2.0"/><circle cx="94.3" cy="134.3" r="2.0"/><circle cx="80.3" cy="132.1" r="2.0"/><circle cx="83.9" cy="126.5" r="2.0"/><circle cx="79.7" cy="128.5" r="2.0"/><circle cx="92.1" cy="106.6" r="2.0"/><circle cx="86.0" cy="121.1" r="2.0"/><circle cx="87.1" cy="110.5" r="2.0"/><circle cx="92.2" cy="142.0" r="2.0"/><circle cx="86.4" cy="113.9" r="2.0"/><circle cx="81.9" cy="131.9" r="2.0"/><circle cx="87.5" cy="116.1" r="2.0"/><circle cx="85.6" cy="116.7" r="2.0"/><circle cx="90.1" cy="138.7" r="2.0"/><circle cx="90.2" cy="120.2" r="2.0"/><circle cx="91.6" cy="142.7" r="2.0"/><circle cx="85.5" cy="131.7" r="2.0"/><circle cx="90.0" cy="103.4" r="2.0"/><circle cx="83.3" cy="103.8" r="2.0"/><circle cx="85.5" cy="110.6" r="2.0"/><circle cx="89.0" cy="130.2" r="2.0"/><circle cx="85.3" cy="113.2" r="2.0"/><circle cx="87.3" cy="110.8" r="2.0"/><circle cx="81.5" cy="107.3" r="2.0"/><circle cx="93.0" cy="110.3" r="2.0"/><circle cx="95.2" cy="108.2" r="2.0"/><circle cx="88.5" cy="104.3" r="2.0"/><circle cx="90.6" cy="120.6" r="2.0"/><circle cx="82.3" cy="123.5" r="2.0"/><circle cx="91.9" cy="121.9" r="2.0"/><circle cx="93.4" cy="119.3" r="2.0"/><circle cx="91.0" cy="129.6" r="2.0"/><circle cx="85.2" cy="116.5" r="2.0"/><circle cx="84.4" cy="104.1" r="2.0"/><circle cx="94.6" cy="129.0" r="2.0"/><circle cx="84.9" cy="133.4" r="2.0"/><circle cx="82.9" cy="109.8" r="2.0"/><circle cx="87.0" cy="130.0" r="2.0"/><circle cx="80.6" cy="136.0" r="2.0"/><circle cx="91.6" cy="141.0" r="2.0"/><circle cx="82.4" cy="127.4" r="2.0"/><circle cx="86.0" cy="116.4" r="2.0"/><circle cx="90.6" cy="133.0" r="2.0"/><circle cx="92.8" cy="105.5" r="2.0"/><circle cx="84.8" cy="135.1" r="2.0"/><circle cx="90.3" cy="111.7" r="2.0"/><circle cx="86.0" cy="143.8" r="2.0"/><circle cx="82.6" cy="130.3" r="2.0"/><circle cx="83.6" cy="118.1" r="2.0"/><circle cx="86.4" cy="109.7" r="2.0"/><circle cx="84.8" cy="136.4" r="2.0"/><circle cx="93.9" cy="125.0" r="2.0"/><circle cx="87.1" cy="137.8" r="2.0"/><circle cx="79.8" cy="123.3" r="2.0"/><circle cx="82.6" cy="112.6" r="2.0"/><circle cx="88.2" cy="128.1" r="2.0"/><circle cx="88.4" cy="128.7" r="2.0"/><circle cx="88.9" cy="106.5" r="2.0"/><circle cx="92.1" cy="116.3" r="2.0"/><circle cx="91.6" cy="132.1" r="2.0"/><circle cx="89.4" cy="121.7" r="2.0"/><circle cx="90.6" cy="123.1" r="2.0"/><circle cx="87.1" cy="131.7" r="2.0"/><circle cx="83.5" cy="131.0" r="2.0"/><circle cx="92.5" cy="132.3" r="2.0"/><circle cx="87.0" cy="104.2" r="2.0"/><circle cx="80.9" cy="117.7" r="2.0"/><circle cx="90.7" cy="135.4" r="2.0"/><circle cx="86.2" cy="111.5" r="2.0"/><circle cx="92.3" cy="134.2" r="2.0"/><circle cx="87.8" cy="118.7" r="2.0"/><circle cx="84.9" cy="117.0" r="2.0"/><circle cx="88.8" cy="106.7" r="2.0"/><circle cx="85.3" cy="109.6" r="2.0"/><circle cx="81.2" cy="120.2" r="2.0"/><circle cx="92.4" cy="104.6" r="2.0"/><circle cx="86.6" cy="117.9" r="2.0"/><circle cx="83.3" cy="128.4" r="2.0"/><circle cx="88.2" cy="140.5" r="2.0"/><circle cx="80.8" cy="113.0" r="2.0"/><circle cx="89.7" cy="125.9" r="2.0"/><circle cx="93.7" cy="109.0" r="2.0"/><circle cx="88.5" cy="125.0" r="2.0"/><circle cx="81.8" cy="116.3" r="2.0"/><circle cx="84.8" cy="111.7" r="2.0"/><circle cx="83.9" cy="132.1" r="2.0"/><circle cx="91.6" cy="113.7" r="2.0"/><circle cx="87.4" cy="120.2" r="2.0"/><circle cx="93.0" cy="109.4" r="2.0"/><circle cx="92.9" cy="121.6" r="2.0"/><circle cx="85.0" cy="129.0" r="2.0"/><circle cx="89.5" cy="128.8" r="2.0"/><circle cx="80.8" cy="122.3" r="2.0"/><circle cx="90.5" cy="111.9" r="2.0"/><circle cx="84.4" cy="114.3" r="2.0"/><circle cx="87.0" cy="108.4" r="2.0"/><circle cx="94.6" cy="139.5" r="2.0"/><circle cx="85.9" cy="114.7" r="2.0"/><circle cx="82.7" cy="123.7" r="2.0"/><circle cx="84.2" cy="100.6" r="2.0"/><circle cx="84.5" cy="115.9" r="2.0"/><circle cx="87.9" cy="130.3" r="2.0"/><circle cx="90.8" cy="134.8" r="2.0"/><circle cx="82.0" cy="123.4" r="2.0"/><circle cx="93.6" cy="130.3" r="2.0"/><circle cx="92.3" cy="125.4" r="2.0"/><circle cx="87.5" cy="129.6" r="2.0"/><circle cx="92.4" cy="134.9" r="2.0"/><circle cx="90.0" cy="139.6" r="2.0"/><circle cx="85.5" cy="108.3" r="2.0"/><circle cx="88.1" cy="136.6" r="2.0"/><circle cx="90.3" cy="127.5" r="2.0"/><circle cx="92.8" cy="111.1" r="2.0"/><circle cx="88.1" cy="126.1" r="2.0"/><circle cx="91.7" cy="105.2" r="2.0"/><circle cx="84.2" cy="113.1" r="2.0"/><circle cx="87.7" cy="111.9" r="2.0"/><circle cx="90.5" cy="127.1" r="2.0"/><circle cx="89.7" cy="120.6" r="2.0"/><circle cx="83.9" cy="115.8" r="2.0"/><circle cx="88.8" cy="109.2" r="2.0"/><circle cx="84.2" cy="111.8" r="2.0"/><circle cx="90.1" cy="126.5" r="2.0"/><circle cx="86.9" cy="123.5" r="2.0"/><circle cx="94.2" cy="106.1" r="2.0"/><circle cx="86.4" cy="144.4" r="2.0"/><circle cx="86.2" cy="135.2" r="2.0"/><circle cx="89.1" cy="108.2" r="2.0"/><circle cx="92.6" cy="124.4" r="2.0"/><circle cx="90.4" cy="132.0" r="2.0"/><circle cx="86.9" cy="129.0" r="2.0"/><circle cx="87.9" cy="106.3" r="2.0"/><circle cx="81.9" cy="114.5" r="2.0"/><circle cx="91.7" cy="122.9" r="2.0"/><circle cx="94.7" cy="114.4" r="2.0"/><circle cx="83.7" cy="134.7" r="2.0"/><circle cx="85.4" cy="118.8" r="2.0"/><circle cx="102.0" cy="101.5" r="2.0"/><circle cx="105.8" cy="103.4" r="2.0"/><circle cx="100.8" cy="102.8" r="2.0"/><circle cx="109.8" cy="106.7" r="2.0"/><circle cx="104.2" cy="105.2" r="2.0"/><circle cx="98.9" cy="101.9" r="2.0"/><circle cx="106.1" cy="103.0" r="2.0"/><circle cx="97.4" cy="101.2" r="2.0"/><circle cx="98.8" cy="103.8" r="2.0"/><circle cx="100.7" cy="102.3" r="2.0"/><circle cx="96.8" cy="100.7" r="2.0"/><circle cx="106.9" cy="103.0" r="2.0"/><circle cx="109.9" cy="104.4" r="2.0"/><circle cx="97.6" cy="100.0" r="2.0"/><circle cx="95.0" cy="115.6" r="2.0"/><circle cx="100.4" cy="122.9" r="2.0"/><circle cx="97.4" cy="116.5" r="2.0"/><circle cx="93.9" cy="114.8" r="2.0"/><circle cx="96.3" cy="124.6" r="2.0"/><circle cx="100.4" cy="118.2" r="2.0"/><circle cx="95.1" cy="114.8" r="2.0"/><circle cx="100.1" cy="117.6" r="2.0"/><circle cx="96.0" cy="116.9" r="2.0"/><circle cx="96.6" cy="115.3" r="2.0"/><circle cx="100.4" cy="125.3" r="2.0"/><circle cx="98.0" cy="122.3" r="2.0"/><circle cx="98.1" cy="110.6" r="2.0"/><circle cx="99.8" cy="122.6" r="2.0"/><circle cx="74.5" cy="145.3" r="2.0"/><circle cx="81.8" cy="148.7" r="2.0"/><circle cx="76.3" cy="146.7" r="2.0"/><circle cx="74.1" cy="142.7" r="2.0"/><circle cx="85.1" cy="153.6" r="2.0"/><circle cx="77.2" cy="143.8" r="2.0"/><circle cx="85.7" cy="147.8" r="2.0"/><circle cx="76.2" cy="144.9" r="2.0"/><circle cx="76.9" cy="147.6" r="2.0"/><circle cx="81.8" cy="148.7" r="2.0"/><circle cx="78.4" cy="150.7" r="2.0"/><circle cx="82.0" cy="145.2" r="2.0"/><circle cx="81.9" cy="153.0" r="2.0"/><circle cx="75.1" cy="147.2" r="2.0"/><circle cx="82.9" cy="145.0" r="2.0"/><circle cx="74.7" cy="143.5" r="2.0"/><circle cx="80.3" cy="144.8" r="2.0"/><circle cx="79.4" cy="148.8" r="2.0"/><circle cx="87.0" cy="151.6" r="2.0"/><circle cx="88.3" cy="148.3" r="2.0"/><circle cx="72.8" cy="145.9" r="2.0"/><circle cx="77.8" cy="144.0" r="2.0"/><circle cx="75.9" cy="148.7" r="2.0"/><circle cx="75.6" cy="147.1" r="2.0"/><circle cx="81.9" cy="144.2" r="2.0"/><circle cx="78.5" cy="150.5" r="2.0"/><circle cx="76.2" cy="148.3" r="2.0"/><circle cx="75.4" cy="146.3" r="2.0"/><circle cx="79.7" cy="150.8" r="2.0"/><circle cx="81.6" cy="147.0" r="2.0"/><circle cx="84.8" cy="147.3" r="2.0"/><circle cx="79.9" cy="145.8" r="2.0"/><circle cx="78.6" cy="147.2" r="2.0"/><circle cx="78.4" cy="147.2" r="2.0"/><circle cx="88.2" cy="148.6" r="2.0"/><circle cx="77.3" cy="144.7" r="2.0"/><circle cx="76.9" cy="151.7" r="2.0"/><circle cx="80.5" cy="149.6" r="2.0"/><circle cx="75.5" cy="144.6" r="2.0"/><circle cx="72.5" cy="145.6" r="2.0"/><circle cx="74.4" cy="141.1" r="2.0"/><circle cx="78.0" cy="146.5" r="2.0"/><circle cx="72.8" cy="142.6" r="2.0"/><circle cx="73.4" cy="143.8" r="2.0"/><circle cx="78.4" cy="148.2" r="2.0"/><circle cx="80.1" cy="145.4" r="2.0"/><circle cx="77.1" cy="148.9" r="2.0"/><circle cx="76.9" cy="141.3" r="2.0"/><circle cx="71.9" cy="139.7" r="2.0"/><circle cx="79.7" cy="147.5" r="2.0"/><circle cx="79.1" cy="144.0" r="2.0"/><circle cx="76.3" cy="143.5" r="2.0"/><circle cx="97.8" cy="155.7" r="2.0"/><circle cx="96.7" cy="151.7" r="2.0"/><circle cx="101.5" cy="159.2" r="2.0"/><circle cx="99.5" cy="149.3" r="2.0"/><circle cx="92.7" cy="149.4" r="2.0"/><circle cx="96.1" cy="151.1" r="2.0"/><circle cx="92.6" cy="145.5" r="2.0"/><circle cx="99.4" cy="149.6" r="2.0"/><circle cx="92.7" cy="147.5" r="2.0"/><circle cx="93.8" cy="145.5" r="2.0"/><circle cx="100.0" cy="150.5" r="2.0"/><circle cx="93.9" cy="147.4" r="2.0"/><circle cx="100.0" cy="151.7" r="2.0"/><circle cx="94.4" cy="152.5" r="2.0"/><circle cx="96.7" cy="148.0" r="2.0"/><circle cx="95.8" cy="147.7" r="2.0"/><circle cx="102.7" cy="166.8" r="2.0"/><circle cx="95.7" cy="176.2" r="2.0"/><circle cx="94.4" cy="164.4" r="2.0"/><circle cx="91.5" cy="174.0" r="2.0"/><circle cx="92.8" cy="154.5" r="2.0"/><circle cx="92.2" cy="165.0" r="2.0"/><circle cx="89.9" cy="159.3" r="2.0"/><circle cx="93.8" cy="167.3" r="2.0"/><circle cx="106.0" cy="172.5" r="2.0"/><circle cx="96.4" cy="151.4" r="2.0"/><circle cx="100.0" cy="177.1" r="2.0"/><circle cx="95.2" cy="151.1" r="2.0"/><circle cx="98.6" cy="166.2" r="2.0"/><circle cx="86.3" cy="154.4" r="2.0"/><circle cx="92.3" cy="157.4" r="2.0"/><circle cx="95.1" cy="163.8" r="2.0"/><circle cx="90.4" cy="157.0" r="2.0"/><circle cx="91.0" cy="153.6" r="2.0"/><circle cx="92.2" cy="164.5" r="2.0"/><circle cx="93.6" cy="167.4" r="2.0"/><circle cx="92.5" cy="154.2" r="2.0"/><circle cx="95.0" cy="161.4" r="2.0"/><circle cx="101.1" cy="168.1" r="2.0"/><circle cx="90.4" cy="149.7" r="2.0"/><circle cx="89.2" cy="148.3" r="2.0"/><circle cx="93.6" cy="154.4" r="2.0"/><circle cx="88.7" cy="169.7" r="2.0"/><circle cx="97.0" cy="162.0" r="2.0"/><circle cx="92.1" cy="170.3" r="2.0"/><circle cx="94.1" cy="160.0" r="2.0"/><circle cx="98.6" cy="156.1" r="2.0"/><circle cx="91.6" cy="170.7" r="2.0"/><circle cx="93.0" cy="173.7" r="2.0"/><circle cx="90.5" cy="161.9" r="2.0"/><circle cx="87.3" cy="156.7" r="2.0"/><circle cx="95.1" cy="165.3" r="2.0"/><circle cx="95.2" cy="149.6" r="2.0"/><circle cx="96.5" cy="161.4" r="2.0"/><circle cx="98.6" cy="172.5" r="2.0"/><circle cx="99.9" cy="169.7" r="2.0"/><circle cx="98.2" cy="167.3" r="2.0"/><circle cx="95.7" cy="163.7" r="2.0"/><circle cx="92.5" cy="170.6" r="2.0"/><circle cx="100.2" cy="176.3" r="2.0"/><circle cx="86.5" cy="160.7" r="2.0"/><circle cx="93.5" cy="167.8" r="2.0"/><circle cx="86.0" cy="157.4" r="2.0"/><circle cx="82.9" cy="150.2" r="2.0"/><circle cx="92.6" cy="158.4" r="2.0"/><circle cx="93.0" cy="156.1" r="2.0"/><circle cx="92.6" cy="160.9" r="2.0"/><circle cx="95.3" cy="165.4" r="2.0"/><circle cx="91.4" cy="153.3" r="2.0"/><circle cx="94.8" cy="158.8" r="2.0"/><circle cx="102.1" cy="168.6" r="2.0"/><circle cx="90.7" cy="172.4" r="2.0"/><circle cx="93.9" cy="168.0" r="2.0"/><circle cx="85.6" cy="156.9" r="2.0"/><circle cx="96.3" cy="168.2" r="2.0"/><circle cx="87.7" cy="152.6" r="2.0"/><circle cx="95.7" cy="157.6" r="2.0"/><circle cx="100.1" cy="167.2" r="2.0"/><circle cx="95.7" cy="163.9" r="2.0"/><circle cx="87.4" cy="158.3" r="2.0"/><circle cx="101.5" cy="170.7" r="2.0"/><circle cx="92.5" cy="156.8" r="2.0"/><circle cx="97.3" cy="165.6" r="2.0"/><circle cx="91.6" cy="161.9" r="2.0"/><circle cx="93.7" cy="174.4" r="2.0"/><circle cx="88.1" cy="165.7" r="2.0"/><circle cx="98.4" cy="168.5" r="2.0"/><circle cx="98.3" cy="179.0" r="2.0"/><circle cx="101.7" cy="166.3" r="2.0"/><circle cx="97.4" cy="164.9" r="2.0"/><circle cx="93.1" cy="149.9" r="2.0"/><circle cx="95.6" cy="166.3" r="2.0"/><circle cx="82.0" cy="155.7" r="2.0"/><circle cx="98.5" cy="169.7" r="2.0"/><circle cx="91.1" cy="151.3" r="2.0"/><circle cx="90.9" cy="165.3" r="2.0"/><circle cx="79.8" cy="180.2" r="2.0"/><circle cx="82.3" cy="182.5" r="2.0"/><circle cx="72.6" cy="181.4" r="2.0"/><circle cx="75.4" cy="178.9" r="2.0"/><circle cx="73.7" cy="176.0" r="2.0"/><circle cx="79.0" cy="181.9" r="2.0"/><circle cx="81.8" cy="189.2" r="2.0"/><circle cx="75.0" cy="182.1" r="2.0"/><circle cx="81.3" cy="180.0" r="2.0"/><circle cx="80.6" cy="180.8" r="2.0"/><circle cx="78.2" cy="187.5" r="2.0"/><circle cx="76.9" cy="185.7" r="2.0"/><circle cx="81.9" cy="178.8" r="2.0"/><circle cx="77.4" cy="185.3" r="2.0"/><circle cx="82.0" cy="177.9" r="2.0"/><circle cx="79.3" cy="179.7" r="2.0"/><circle cx="78.0" cy="174.7" r="2.0"/><circle cx="82.7" cy="187.2" r="2.0"/><circle cx="78.3" cy="182.0" r="2.0"/><circle cx="75.4" cy="178.8" r="2.0"/><circle cx="112.9" cy="193.5" r="2.0"/><circle cx="110.1" cy="194.1" r="2.0"/><circle cx="111.4" cy="192.4" r="2.0"/><circle cx="108.6" cy="189.7" r="2.0"/><circle cx="108.1" cy="186.6" r="2.0"/><circle cx="107.9" cy="192.0" r="2.0"/><circle cx="112.3" cy="189.3" r="2.0"/><circle cx="111.9" cy="186.4" r="2.0"/><circle cx="103.1" cy="187.5" r="2.0"/><circle cx="108.8" cy="190.5" r="2.0"/><circle cx="104.0" cy="186.4" r="2.0"/><circle cx="103.1" cy="182.0" r="2.0"/><circle cx="116.0" cy="191.7" r="2.0"/><circle cx="109.6" cy="194.4" r="2.0"/><circle cx="116.8" cy="198.1" r="2.0"/><circle cx="104.7" cy="190.0" r="2.0"/><circle cx="101.2" cy="183.3" r="2.0"/><circle cx="102.4" cy="186.4" r="2.0"/><circle cx="110.6" cy="193.3" r="2.0"/><circle cx="104.5" cy="190.1" r="2.0"/><circle cx="109.9" cy="192.3" r="2.0"/><circle cx="108.5" cy="191.1" r="2.0"/><circle cx="104.9" cy="190.7" r="2.0"/><circle cx="115.4" cy="196.4" r="2.0"/><circle cx="114.2" cy="195.5" r="2.0"/><circle cx="106.1" cy="190.2" r="2.0"/><circle cx="114.0" cy="200.2" r="2.0"/><circle cx="121.0" cy="203.5" r="2.0"/><circle cx="116.9" cy="203.1" r="2.0"/><circle cx="119.0" cy="206.0" r="2.0"/><circle cx="117.0" cy="201.3" r="2.0"/><circle cx="117.0" cy="206.2" r="2.0"/><circle cx="114.7" cy="193.1" r="2.0"/><circle cx="124.7" cy="207.1" r="2.0"/><circle cx="115.6" cy="197.8" r="2.0"/><circle cx="119.9" cy="207.4" r="2.0"/><circle cx="120.8" cy="206.7" r="2.0"/><circle cx="118.7" cy="211.1" r="2.0"/><circle cx="119.8" cy="197.7" r="2.0"/><circle cx="120.4" cy="205.3" r="2.0"/><circle cx="115.2" cy="195.0" r="2.0"/><circle cx="116.6" cy="203.8" r="2.0"/><circle cx="114.5" cy="198.2" r="2.0"/><circle cx="124.3" cy="206.7" r="2.0"/><circle cx="118.8" cy="198.0" r="2.0"/><circle cx="112.0" cy="201.7" r="2.0"/><circle cx="121.8" cy="207.0" r="2.0"/><circle cx="117.0" cy="205.3" r="2.0"/><circle cx="123.7" cy="207.1" r="2.0"/><circle cx="116.8" cy="196.4" r="2.0"/><circle cx="130.9" cy="218.2" r="2.0"/><circle cx="125.4" cy="207.7" r="2.0"/><circle cx="130.5" cy="209.2" r="2.0"/><circle cx="124.5" cy="209.8" r="2.0"/><circle cx="129.7" cy="213.0" r="2.0"/><circle cx="131.7" cy="213.7" r="2.0"/><circle cx="128.7" cy="210.5" r="2.0"/><circle cx="125.7" cy="205.6" r="2.0"/><circle cx="121.4" cy="206.1" r="2.0"/><circle cx="130.2" cy="210.7" r="2.0"/><circle cx="136.0" cy="211.9" r="2.0"/><circle cx="134.0" cy="217.9" r="2.0"/><circle cx="134.6" cy="216.2" r="2.0"/><circle cx="129.4" cy="216.6" r="2.0"/><circle cx="131.7" cy="211.6" r="2.0"/><circle cx="133.4" cy="212.7" r="2.0"/><circle cx="136.3" cy="155.6" r="2.0"/><circle cx="140.0" cy="147.2" r="2.0"/><circle cx="144.4" cy="160.5" r="2.0"/><circle cx="147.3" cy="166.8" r="2.0"/><circle cx="151.4" cy="160.6" r="2.0"/><circle cx="146.0" cy="160.9" r="2.0"/><circle cx="142.0" cy="155.4" r="2.0"/><circle cx="148.6" cy="166.7" r="2.0"/><circle cx="150.1" cy="163.8" r="2.0"/><circle cx="145.6" cy="165.4" r="2.0"/><circle cx="149.1" cy="155.8" r="2.0"/><circle cx="142.7" cy="159.8" r="2.0"/><circle cx="144.1" cy="170.5" r="2.0"/><circle cx="143.7" cy="154.8" r="2.0"/><circle cx="152.2" cy="162.6" r="2.0"/><circle cx="144.4" cy="161.7" r="2.0"/><circle cx="144.1" cy="158.9" r="2.0"/><circle cx="153.2" cy="165.3" r="2.0"/><circle cx="142.2" cy="155.3" r="2.0"/><circle cx="153.7" cy="166.4" r="2.0"/><circle cx="147.6" cy="165.0" r="2.0"/><circle cx="148.3" cy="156.9" r="2.0"/><circle cx="145.3" cy="166.9" r="2.0"/><circle cx="145.3" cy="160.2" r="2.0"/><circle cx="143.8" cy="167.7" r="2.0"/><circle cx="148.1" cy="160.7" r="2.0"/><circle cx="141.5" cy="153.9" r="2.0"/><circle cx="146.1" cy="165.8" r="2.0"/><circle cx="141.6" cy="145.5" r="2.0"/><circle cx="146.0" cy="155.1" r="2.0"/><circle cx="147.4" cy="158.9" r="2.0"/><circle cx="145.0" cy="165.2" r="2.0"/><circle cx="148.4" cy="166.3" r="2.0"/><circle cx="143.2" cy="149.0" r="2.0"/><circle cx="144.3" cy="148.4" r="2.0"/><circle cx="152.2" cy="163.3" r="2.0"/><circle cx="151.0" cy="167.2" r="2.0"/><circle cx="151.4" cy="159.0" r="2.0"/><circle cx="149.0" cy="161.4" r="2.0"/><circle cx="145.4" cy="170.6" r="2.0"/><circle cx="147.3" cy="154.4" r="2.0"/><circle cx="138.4" cy="154.2" r="2.0"/><circle cx="146.8" cy="153.3" r="2.0"/><circle cx="145.0" cy="167.1" r="2.0"/><circle cx="144.4" cy="160.2" r="2.0"/><circle cx="148.1" cy="161.3" r="2.0"/><circle cx="145.8" cy="150.3" r="2.0"/><circle cx="147.1" cy="158.6" r="2.0"/><circle cx="150.1" cy="156.9" r="2.0"/><circle cx="147.8" cy="169.3" r="2.0"/><circle cx="143.5" cy="163.7" r="2.0"/><circle cx="150.3" cy="167.6" r="2.0"/><circle cx="145.7" cy="157.7" r="2.0"/><circle cx="149.0" cy="162.3" r="2.0"/><circle cx="152.6" cy="168.6" r="2.0"/><circle cx="145.8" cy="160.0" r="2.0"/><circle cx="149.7" cy="156.1" r="2.0"/><circle cx="148.5" cy="166.8" r="2.0"/><circle cx="139.5" cy="155.5" r="2.0"/><circle cx="151.4" cy="163.4" r="2.0"/><circle cx="145.7" cy="157.8" r="2.0"/><circle cx="143.4" cy="162.1" r="2.0"/><circle cx="148.3" cy="165.8" r="2.0"/><circle cx="140.3" cy="156.5" r="2.0"/><circle cx="144.8" cy="152.7" r="2.0"/><circle cx="143.5" cy="161.3" r="2.0"/><circle cx="139.3" cy="148.1" r="2.0"/><circle cx="150.3" cy="156.6" r="2.0"/><circle cx="142.9" cy="161.9" r="2.0"/><circle cx="146.0" cy="152.1" r="2.0"/><circle cx="141.3" cy="165.5" r="2.0"/><circle cx="139.0" cy="153.7" r="2.0"/><circle cx="133.6" cy="154.3" r="2.0"/><circle cx="147.2" cy="173.1" r="2.0"/><circle cx="141.2" cy="168.1" r="2.0"/><circle cx="139.7" cy="159.4" r="2.0"/><circle cx="153.1" cy="165.0" r="2.0"/><circle cx="142.7" cy="152.8" r="2.0"/><circle cx="146.3" cy="173.9" r="2.0"/><circle cx="152.7" cy="169.8" r="2.0"/><circle cx="140.1" cy="166.4" r="2.0"/><circle cx="151.3" cy="163.8" r="2.0"/><circle cx="149.4" cy="155.2" r="2.0"/><circle cx="139.0" cy="151.2" r="2.0"/><circle cx="139.0" cy="155.5" r="2.0"/><circle cx="144.8" cy="149.4" r="2.0"/><circle cx="139.5" cy="146.1" r="2.0"/><circle cx="153.8" cy="168.9" r="2.0"/><circle cx="141.5" cy="164.4" r="2.0"/><circle cx="146.3" cy="153.9" r="2.0"/><circle cx="134.9" cy="159.0" r="2.0"/><circle cx="141.2" cy="159.4" r="2.0"/><circle cx="137.7" cy="159.9" r="2.0"/><circle cx="137.7" cy="157.2" r="2.0"/><circle cx="149.2" cy="159.8" r="2.0"/><circle cx="141.5" cy="152.0" r="2.0"/><circle cx="137.5" cy="154.0" r="2.0"/><circle cx="142.5" cy="164.5" r="2.0"/><circle cx="141.0" cy="170.0" r="2.0"/><circle cx="147.6" cy="154.2" r="2.0"/><circle cx="141.7" cy="149.2" r="2.0"/><circle cx="150.5" cy="154.5" r="2.0"/><circle cx="139.4" cy="156.0" r="2.0"/><circle cx="150.3" cy="159.5" r="2.0"/><circle cx="134.1" cy="155.0" r="2.0"/><circle cx="140.8" cy="155.2" r="2.0"/><circle cx="148.8" cy="166.8" r="2.0"/><circle cx="149.0" cy="159.9" r="2.0"/><circle cx="143.9" cy="169.0" r="2.0"/><circle cx="147.7" cy="158.1" r="2.0"/><circle cx="147.9" cy="185.6" r="2.0"/><circle cx="138.3" cy="176.0" r="2.0"/><circle cx="138.9" cy="171.5" r="2.0"/><circle cx="138.9" cy="176.6" r="2.0"/><circle cx="144.2" cy="169.3" r="2.0"/><circle cx="150.5" cy="182.8" r="2.0"/><circle cx="145.6" cy="171.0" r="2.0"/><circle cx="152.7" cy="178.5" r="2.0"/><circle cx="145.0" cy="175.7" r="2.0"/><circle cx="136.9" cy="172.4" r="2.0"/><circle cx="135.0" cy="171.0" r="2.0"/><circle cx="135.5" cy="172.0" r="2.0"/><circle cx="145.5" cy="178.7" r="2.0"/><circle cx="145.7" cy="172.3" r="2.0"/><circle cx="135.5" cy="168.5" r="2.0"/><circle cx="141.6" cy="170.1" r="2.0"/><circle cx="138.9" cy="174.9" r="2.0"/><circle cx="143.2" cy="181.0" r="2.0"/><circle cx="142.4" cy="182.7" r="2.0"/><circle cx="147.0" cy="180.1" r="2.0"/><circle cx="147.9" cy="178.4" r="2.0"/><circle cx="152.1" cy="179.1" r="2.0"/><circle cx="140.0" cy="170.5" r="2.0"/><circle cx="152.9" cy="186.3" r="2.0"/><circle cx="140.7" cy="174.7" r="2.0"/><circle cx="145.1" cy="180.1" r="2.0"/><circle cx="143.9" cy="177.3" r="2.0"/><circle cx="139.8" cy="169.0" r="2.0"/><circle cx="141.9" cy="172.3" r="2.0"/><circle cx="149.8" cy="177.3" r="2.0"/><circle cx="143.2" cy="178.0" r="2.0"/><circle cx="149.9" cy="177.7" r="2.0"/><circle cx="143.8" cy="181.1" r="2.0"/><circle cx="140.1" cy="173.9" r="2.0"/><circle cx="142.3" cy="175.6" r="2.0"/><circle cx="141.6" cy="174.8" r="2.0"/><circle cx="140.0" cy="172.8" r="2.0"/><circle cx="140.9" cy="170.4" r="2.0"/><circle cx="141.4" cy="173.6" r="2.0"/><circle cx="146.4" cy="178.5" r="2.0"/><circle cx="144.5" cy="170.3" r="2.0"/><circle cx="146.4" cy="175.3" r="2.0"/><circle cx="139.4" cy="168.7" r="2.0"/><circle cx="143.1" cy="176.3" r="2.0"/><circle cx="138.2" cy="172.9" r="2.0"/><circle cx="142.9" cy="171.2" r="2.0"/><circle cx="146.1" cy="167.5" r="2.0"/><circle cx="145.4" cy="168.2" r="2.0"/><circle cx="139.1" cy="168.1" r="2.0"/><circle cx="141.5" cy="174.7" r="2.0"/><circle cx="151.7" cy="176.9" r="2.0"/><circle cx="141.1" cy="175.0" r="2.0"/><circle cx="150.1" cy="180.8" r="2.0"/><circle cx="147.8" cy="178.4" r="2.0"/><circle cx="146.5" cy="182.3" r="2.0"/><circle cx="168.8" cy="187.5" r="2.0"/><circle cx="168.0" cy="184.8" r="2.0"/><circle cx="164.7" cy="187.5" r="2.0"/><circle cx="162.7" cy="184.7" r="2.0"/><circle cx="164.5" cy="181.0" r="2.0"/><circle cx="161.5" cy="181.3" r="2.0"/><circle cx="163.3" cy="186.1" r="2.0"/><circle cx="161.8" cy="180.2" r="2.0"/><circle cx="155.3" cy="182.6" r="2.0"/><circle cx="161.6" cy="189.1" r="2.0"/><circle cx="166.7" cy="193.0" r="2.0"/><circle cx="149.7" cy="178.9" r="2.0"/><circle cx="162.9" cy="189.9" r="2.0"/><circle cx="163.0" cy="186.4" r="2.0"/><circle cx="159.1" cy="183.8" r="2.0"/><circle cx="165.6" cy="184.3" r="2.0"/><circle cx="158.1" cy="182.8" r="2.0"/><circle cx="161.7" cy="183.7" r="2.0"/><circle cx="173.8" cy="188.4" r="2.0"/><circle cx="159.7" cy="183.6" r="2.0"/><circle cx="163.3" cy="185.6" r="2.0"/><circle cx="173.6" cy="189.9" r="2.0"/><circle cx="161.4" cy="181.6" r="2.0"/><circle cx="166.4" cy="183.7" r="2.0"/><circle cx="159.5" cy="181.5" r="2.0"/><circle cx="154.0" cy="181.8" r="2.0"/><circle cx="165.7" cy="179.7" r="2.0"/><circle cx="164.6" cy="180.6" r="2.0"/><circle cx="169.5" cy="187.3" r="2.0"/><circle cx="161.4" cy="186.0" r="2.0"/><circle cx="160.5" cy="186.4" r="2.0"/><circle cx="161.9" cy="179.8" r="2.0"/><circle cx="160.5" cy="175.2" r="2.0"/><circle cx="152.5" cy="179.5" r="2.0"/><circle cx="168.7" cy="191.6" r="2.0"/><circle cx="153.8" cy="181.3" r="2.0"/><circle cx="156.3" cy="179.4" r="2.0"/><circle cx="161.3" cy="180.2" r="2.0"/><circle cx="159.6" cy="180.8" r="2.0"/><circle cx="160.5" cy="179.6" r="2.0"/><circle cx="168.7" cy="191.0" r="2.0"/><circle cx="163.0" cy="178.8" r="2.0"/><circle cx="172.3" cy="186.4" r="2.0"/><circle cx="169.6" cy="185.2" r="2.0"/><circle cx="166.2" cy="188.1" r="2.0"/><circle cx="162.4" cy="184.3" r="2.0"/><circle cx="167.9" cy="192.0" r="2.0"/><circle cx="154.7" cy="179.2" r="2.0"/><circle cx="158.5" cy="175.6" r="2.0"/><circle cx="161.6" cy="183.2" r="2.0"/><circle cx="151.5" cy="182.7" r="2.0"/><circle cx="157.2" cy="178.5" r="2.0"/><circle cx="161.2" cy="179.5" r="2.0"/><circle cx="159.8" cy="175.0" r="2.0"/><circle cx="158.4" cy="185.3" r="2.0"/><circle cx="162.9" cy="194.1" r="2.0"/><circle cx="164.1" cy="198.2" r="2.0"/><circle cx="165.1" cy="189.9" r="2.0"/><circle cx="161.2" cy="187.1" r="2.0"/><circle cx="163.0" cy="197.6" r="2.0"/><circle cx="163.1" cy="191.3" r="2.0"/><circle cx="162.0" cy="196.5" r="2.0"/><circle cx="161.0" cy="189.4" r="2.0"/><circle cx="164.1" cy="189.5" r="2.0"/><circle cx="165.1" cy="192.4" r="2.0"/><circle cx="140.9" cy="190.7" r="2.0"/><circle cx="133.9" cy="199.0" r="2.0"/><circle cx="136.5" cy="189.8" r="2.0"/><circle cx="132.2" cy="183.0" r="2.0"/><circle cx="137.5" cy="184.9" r="2.0"/><circle cx="141.7" cy="196.4" r="2.0"/><circle cx="142.3" cy="204.6" r="2.0"/><circle cx="135.4" cy="193.9" r="2.0"/><circle cx="135.9" cy="203.1" r="2.0"/><circle cx="138.0" cy="188.2" r="2.0"/><circle cx="139.8" cy="190.1" r="2.0"/><circle cx="134.9" cy="195.6" r="2.0"/><circle cx="134.7" cy="185.5" r="2.0"/><circle cx="137.8" cy="187.4" r="2.0"/><circle cx="140.7" cy="204.4" r="2.0"/><circle cx="135.0" cy="192.3" r="2.0"/><circle cx="139.8" cy="189.4" r="2.0"/><circle cx="138.6" cy="187.1" r="2.0"/><circle cx="131.3" cy="181.3" r="2.0"/><circle cx="142.5" cy="195.9" r="2.0"/><circle cx="137.6" cy="201.9" r="2.0"/><circle cx="137.2" cy="196.7" r="2.0"/><circle cx="139.7" cy="209.1" r="2.0"/><circle cx="141.7" cy="202.8" r="2.0"/><circle cx="137.8" cy="192.2" r="2.0"/><circle cx="138.0" cy="199.1" r="2.0"/><circle cx="136.0" cy="206.7" r="2.0"/><circle cx="136.7" cy="189.5" r="2.0"/><circle cx="136.4" cy="195.9" r="2.0"/><circle cx="139.0" cy="194.7" r="2.0"/><circle cx="132.7" cy="185.1" r="2.0"/><circle cx="133.1" cy="184.7" r="2.0"/><circle cx="141.0" cy="196.0" r="2.0"/><circle cx="135.9" cy="189.2" r="2.0"/><circle cx="138.8" cy="201.3" r="2.0"/><circle cx="135.9" cy="203.5" r="2.0"/><circle cx="140.1" cy="192.3" r="2.0"/><circle cx="135.4" cy="202.2" r="2.0"/><circle cx="137.7" cy="200.2" r="2.0"/><circle cx="135.2" cy="199.1" r="2.0"/><circle cx="133.9" cy="188.6" r="2.0"/><circle cx="138.3" cy="194.4" r="2.0"/><circle cx="135.9" cy="189.8" r="2.0"/><circle cx="130.2" cy="191.0" r="2.0"/><circle cx="141.6" cy="199.9" r="2.0"/><circle cx="136.6" cy="191.1" r="2.0"/><circle cx="139.5" cy="197.4" r="2.0"/><circle cx="142.4" cy="200.7" r="2.0"/><circle cx="139.0" cy="194.0" r="2.0"/><circle cx="132.3" cy="192.6" r="2.0"/><circle cx="146.4" cy="214.9" r="2.0"/><circle cx="139.6" cy="206.4" r="2.0"/><circle cx="140.6" cy="209.2" r="2.0"/><circle cx="137.6" cy="212.8" r="2.0"/><circle cx="129.6" cy="207.5" r="2.0"/><circle cx="144.0" cy="211.9" r="2.0"/><circle cx="149.1" cy="211.3" r="2.0"/><circle cx="134.4" cy="206.1" r="2.0"/><circle cx="134.5" cy="211.3" r="2.0"/><circle cx="133.4" cy="211.8" r="2.0"/><circle cx="127.6" cy="204.9" r="2.0"/><circle cx="138.6" cy="210.6" r="2.0"/><circle cx="141.3" cy="207.9" r="2.0"/><circle cx="140.8" cy="208.7" r="2.0"/><circle cx="135.7" cy="209.4" r="2.0"/><circle cx="140.3" cy="210.1" r="2.0"/><circle cx="137.5" cy="205.3" r="2.0"/><circle cx="131.0" cy="205.1" r="2.0"/><circle cx="146.1" cy="215.5" r="2.0"/><circle cx="134.9" cy="206.7" r="2.0"/><circle cx="136.7" cy="212.5" r="2.0"/><circle cx="140.0" cy="206.0" r="2.0"/><circle cx="132.7" cy="209.5" r="2.0"/><circle cx="132.8" cy="210.1" r="2.0"/><circle cx="137.8" cy="206.6" r="2.0"/><circle cx="145.9" cy="226.7" r="2.0"/><circle cx="141.6" cy="213.1" r="2.0"/><circle cx="146.2" cy="232.4" r="2.0"/><circle cx="142.8" cy="227.7" r="2.0"/><circle cx="142.8" cy="229.1" r="2.0"/><circle cx="141.3" cy="217.8" r="2.0"/><circle cx="139.9" cy="211.8" r="2.0"/><circle cx="148.0" cy="225.9" r="2.0"/><circle cx="149.7" cy="228.7" r="2.0"/><circle cx="152.1" cy="235.8" r="2.0"/><circle cx="147.2" cy="232.3" r="2.0"/><circle cx="150.2" cy="241.7" r="2.0"/><circle cx="138.7" cy="216.3" r="2.0"/><circle cx="141.1" cy="211.5" r="2.0"/><circle cx="145.1" cy="221.1" r="2.0"/><circle cx="150.1" cy="240.8" r="2.0"/><circle cx="142.3" cy="231.1" r="2.0"/><circle cx="146.1" cy="224.7" r="2.0"/><circle cx="144.5" cy="234.2" r="2.0"/><circle cx="151.9" cy="235.4" r="2.0"/><circle cx="141.5" cy="211.1" r="2.0"/><circle cx="148.5" cy="224.4" r="2.0"/><circle cx="151.0" cy="235.6" r="2.0"/><circle cx="141.4" cy="222.4" r="2.0"/><circle cx="141.9" cy="232.1" r="2.0"/><circle cx="142.4" cy="216.7" r="2.0"/><circle cx="145.7" cy="228.3" r="2.0"/><circle cx="149.1" cy="238.7" r="2.0"/><circle cx="146.5" cy="231.5" r="2.0"/><circle cx="148.7" cy="230.1" r="2.0"/><circle cx="137.2" cy="218.1" r="2.0"/><circle cx="145.7" cy="231.4" r="2.0"/><circle cx="145.0" cy="217.0" r="2.0"/><circle cx="149.8" cy="232.5" r="2.0"/><circle cx="140.5" cy="226.5" r="2.0"/><circle cx="144.5" cy="229.0" r="2.0"/><circle cx="144.6" cy="227.5" r="2.0"/><circle cx="140.9" cy="212.5" r="2.0"/><circle cx="139.8" cy="219.4" r="2.0"/><circle cx="136.9" cy="216.9" r="2.0"/><circle cx="140.2" cy="246.0" r="2.0"/><circle cx="143.7" cy="246.1" r="2.0"/><circle cx="148.4" cy="264.3" r="2.0"/><circle cx="150.4" cy="260.8" r="2.0"/><circle cx="143.8" cy="251.3" r="2.0"/><circle cx="148.7" cy="255.1" r="2.0"/><circle cx="149.2" cy="256.9" r="2.0"/><circle cx="143.7" cy="254.6" r="2.0"/><circle cx="138.6" cy="247.0" r="2.0"/><circle cx="149.1" cy="246.9" r="2.0"/><circle cx="140.5" cy="244.9" r="2.0"/><circle cx="147.9" cy="247.1" r="2.0"/><circle cx="144.9" cy="247.4" r="2.0"/><circle cx="137.0" cy="241.3" r="2.0"/><circle cx="145.9" cy="247.4" r="2.0"/><circle cx="145.6" cy="265.7" r="2.0"/><circle cx="146.0" cy="258.7" r="2.0"/><circle cx="146.8" cy="247.0" r="2.0"/><circle cx="141.9" cy="258.9" r="2.0"/><circle cx="144.6" cy="256.9" r="2.0"/><circle cx="137.1" cy="237.7" r="2.0"/><circle cx="142.6" cy="254.3" r="2.0"/><circle cx="143.6" cy="248.8" r="2.0"/><circle cx="141.9" cy="257.1" r="2.0"/><circle cx="149.0" cy="256.1" r="2.0"/><circle cx="151.2" cy="255.9" r="2.0"/><circle cx="138.2" cy="243.4" r="2.0"/><circle cx="148.8" cy="264.3" r="2.0"/><circle cx="140.4" cy="247.7" r="2.0"/><circle cx="144.4" cy="256.4" r="2.0"/><circle cx="138.1" cy="246.4" r="2.0"/><circle cx="142.8" cy="239.0" r="2.0"/><circle cx="142.5" cy="274.4" r="2.0"/><circle cx="142.0" cy="280.8" r="2.0"/><circle cx="140.4" cy="265.9" r="2.0"/><circle cx="137.1" cy="274.5" r="2.0"/><circle cx="142.6" cy="263.9" r="2.0"/><circle cx="142.6" cy="278.7" r="2.0"/><circle cx="143.3" cy="280.0" r="2.0"/><circle cx="140.3" cy="286.3" r="2.0"/><circle cx="145.6" cy="283.0" r="2.0"/><circle cx="147.6" cy="284.7" r="2.0"/><circle cx="140.6" cy="274.8" r="2.0"/><circle cx="134.7" cy="265.7" r="2.0"/><circle cx="145.0" cy="280.3" r="2.0"/><circle cx="141.2" cy="294.3" r="2.0"/><circle cx="135.1" cy="264.7" r="2.0"/><circle cx="140.4" cy="275.2" r="2.0"/><circle cx="142.3" cy="271.5" r="2.0"/><circle cx="139.8" cy="268.2" r="2.0"/><circle cx="143.7" cy="271.9" r="2.0"/><circle cx="143.0" cy="267.4" r="2.0"/><circle cx="141.2" cy="285.0" r="2.0"/><circle cx="139.9" cy="262.9" r="2.0"/><circle cx="148.0" cy="290.8" r="2.0"/><circle cx="137.6" cy="266.3" r="2.0"/><circle cx="138.5" cy="272.0" r="2.0"/><circle cx="144.2" cy="282.8" r="2.0"/><circle cx="141.1" cy="292.5" r="2.0"/><circle cx="137.5" cy="269.2" r="2.0"/><circle cx="209.3" cy="163.7" r="2.0"/><circle cx="210.0" cy="158.8" r="2.0"/><circle cx="208.4" cy="161.5" r="2.0"/><circle cx="209.1" cy="149.4" r="2.0"/><circle cx="215.7" cy="160.9" r="2.0"/><circle cx="215.2" cy="161.9" r="2.0"/><circle cx="206.2" cy="145.1" r="2.0"/><circle cx="211.1" cy="156.7" r="2.0"/><circle cx="209.4" cy="170.7" r="2.0"/><circle cx="204.7" cy="162.6" r="2.0"/><circle cx="203.9" cy="146.8" r="2.0"/><circle cx="202.1" cy="142.1" r="2.0"/><circle cx="203.3" cy="158.5" r="2.0"/><circle cx="206.6" cy="149.6" r="2.0"/><circle cx="189.9" cy="165.1" r="2.0"/><circle cx="195.5" cy="171.5" r="2.0"/><circle cx="199.1" cy="175.1" r="2.0"/><circle cx="190.0" cy="165.3" r="2.0"/><circle cx="187.7" cy="164.7" r="2.0"/><circle cx="193.2" cy="167.3" r="2.0"/><circle cx="200.3" cy="161.0" r="2.0"/><circle cx="207.5" cy="164.4" r="2.0"/><circle cx="216.0" cy="167.2" r="2.0"/><circle cx="203.9" cy="161.9" r="2.0"/><circle cx="212.9" cy="165.2" r="2.0"/><circle cx="207.7" cy="161.0" r="2.0"/><circle cx="207.4" cy="162.1" r="2.0"/><circle cx="203.7" cy="163.6" r="2.0"/></g>
<polygon points="73.10,93.40 77.30,90.98 77.30,95.82" fill="#999999"/>
<polygon points="107.70,108.99 104.76,103.89 110.64,103.89" fill="#ec5aa6" fill-opacity="0.9"/>
<polygon points="117.60,108.99 114.66,103.89 120.54,103.89" fill="#ec5aa6" fill-opacity="0.9"/>
<polygon points="101.30,113.39 98.36,108.29 104.24,108.29" fill="#ec5aa6" fill-opacity="0.9"/>
<polygon points="104.10,117.39 101.16,112.29 107.04,112.29" fill="#ec5aa6" fill-opacity="0.9"/>
<polygon points="108.10,114.19 105.16,109.09 111.04,109.09" fill="#ec5aa6" fill-opacity="0.9"/>
<polygon points="111.30,114.99 108.36,109.89 114.24,109.89" fill="#ec5aa6" fill-opacity="0.9"/>
<polygon points="114.10,114.19 111.16,109.09 117.04,109.09" fill="#ec5aa6" fill-opacity="0.9"/>
<polygon points="109.70,117.79 106.76,112.69 112.64,112.69" fill="#ec5aa6" fill-opacity="0.9"/>
<polygon points="112.50,118.59 109.56,113.49 115.44,113.49" fill="#ec5aa6" fill-opacity="0.9"/>
<polygon points="115.30,118.59 112.36,113.49 118.24,113.49" fill="#ec5aa6" fill-opacity="0.9"/>
<polygon points="118.80,117.39 115.86,112.29 121.74,112.29" fill="#ec5aa6" fill-opacity="0.9"/>
<polygon points="110.90,120.99 107.96,115.89 113.84,115.89" fill="#ec5aa6" fill-opacity="0.9"/>
<polygon points="95.00,124.59 92.06,119.49 97.94,119.49" fill="#ec5aa6" fill-opacity="0.9"/>
<polygon points="101.30,124.99 98.36,119.89 104.24,119.89" fill="#ec5aa6" fill-opacity="0.9"/>
<polygon points="104.10,125.79 101.16,120.69 107.04,120.69" fill="#ec5aa6" fill-opacity="0.9"/>
<polygon points="106.90,124.19 103.96,119.09 109.84,119.09" fill="#ec5aa6" fill-opacity="0.9"/>
<polygon points="110.50,123.39 107.56,118.29 113.44,118.29" fill="#ec5aa6" fill-opacity="0.9"/>
<polygon points="117.20,123.39 114.26,118.29 120.14,118.29" fill="#ec5aa6" fill-opacity="0.9"/>
<polygon points="118.40,126.59 115.46,121.49 121.34,121.49" fill="#ec5aa6" fill-opacity="0.9"/>
<polygon points="124.00,126.59 121.06,121.49 126.94,121.49" fill="#ec5aa6" fill-opacity="0.9"/>
<polygon points="99.30,129.69 96.36,124.59 102.24,124.59" fill="#ec5aa6" fill-opacity="0.9"/>
<polygon points="102.90,129.29 99.96,124.19 105.84,124.19" fill="#ec5aa6" fill-opacity="0.9"/>
<polygon points="106.10,128.19 103.16,123.09 109.04,123.09" fill="#ec5aa6" fill-opacity="0.9"/>
<polygon points="100.90,131.29 97.96,126.19 103.84,126.19" fill="#ec5aa6" fill-opacity="0.9"/>
<polygon points="106.50,134.49 103.56,129.39 109.44,129.39" fill="#ec5aa6" fill-opacity="0.9"/>
<polygon points="112.90,132.49 109.96,127.39 115.84,127.39" fill="#ec5aa6" fill-opacity="0.9"/>
<polygon points="114.10,135.29 111.16,130.19 117.04,130.19" fill="#ec5aa6" fill-opacity="0.9"/>
<polygon points="92.60,135.29 89.66,130.19 95.54,130.19" fill="#ec5aa6" fill-opacity="0.9"/>
<polygon points="95.40,134.49 92.46,129.39 98.34,129.39" fill="#ec5aa6" fill-opacity="0.9"/>
<polygon points="99.30,137.29 96.36,132.19 102.24,132.19" fill="#ec5aa6" fill-opacity="0.9"/>
<polygon points="97.30,136.49 94.36,131.39 100.24,131.39" fill="#ec5aa6" fill-opacity="0.9"/>
<polygon points="127.60,137.29 124.66,132.19 130.54,132.19" fill="#ec5aa6" fill-opacity="0.9"/>
<polygon points="116.50,128.59 113.56,123.49 119.44,123.49" fill="#ec5aa6" fill-opacity="0.9"/>
<polygon points="113.50,134.49 110.56,129.39 116.44,129.39" fill="#ec5aa6" fill-opacity="0.9"/>
<polygon points="127.70,137.59 124.76,132.49 130.64,132.49" fill="#ec5aa6" fill-opacity="0.9"/>
<polygon points="123.70,128.29 120.76,123.19 126.64,123.19" fill="#ec5aa6" fill-opacity="0.9"/>
<polygon points="118.00,128.79 115.06,123.69 120.94,123.69" fill="#ec5aa6" fill-opacity="0.9"/>
<polygon points="209.30,67.35 211.90,71.85 206.70,71.85" fill="#dd99ff" fill-opacity="0.85"/>
<polygon points="206.80,70.25 209.40,74.75 204.20,74.75" fill="#dd99ff" fill-opacity="0.85"/>
<polygon points="205.00,72.75 207.60,77.25 202.40,77.25" fill="#dd99ff" fill-opacity="0.85"/>
<polygon points="204.20,74.65 206.80,79.15 201.60,79.15" fill="#dd99ff" fill-opacity="0.85"/>
<polygon points="210.40,74.65 213.00,79.15 207.80,79.15" fill="#dd99ff" fill-opacity="0.85"/>
<polygon points="215.20,71.65 217.80,76.15 212.60,76.15" fill="#dd99ff" fill-opacity="0.85"/>
<polygon points="216.60,74.25 219.20,78.75 214.00,78.75" fill="#dd99ff" fill-opacity="0.85"/>
<polygon points="217.70,76.75 220.30,81.25 215.10,81.25" fill="#dd99ff" fill-opacity="0.85"/>
<polygon points="207.50,77.15 210.10,81.65 204.90,81.65" fill="#dd99ff" fill-opacity="0.85"/>
<polygon points="207.20,78.65 209.80,83.15 204.60,83.15" fill="#dd99ff" fill-opacity="0.85"/>
<polygon points="211.90,80.45 214.50,84.95 209.30,84.95" fill="#dd99ff" fill-opacity="0.85"/>
<polygon points="215.50,81.55 218.10,86.05 212.90,86.05" fill="#dd99ff" fill-opacity="0.85"/>
<polygon points="210.40,84.45 213.00,88.95 207.80,88.95" fill="#dd99ff" fill-opacity="0.85"/>
<polygon points="195.50,85.95 198.10,90.45 192.90,90.45" fill="#dd99ff" fill-opacity="0.85"/>
<polygon points="234.50,68.75 237.10,73.25 231.90,73.25" fill="#dd99ff" fill-opacity="0.85"/>
<polygon points="270.80,75.75 268.20,71.25 273.40,71.25" fill="#cc88ff" fill-opacity="0.85"/>
<polygon points="272.50,76.95 269.90,72.45 275.10,72.45" fill="#cc88ff" fill-opacity="0.85"/>
<polygon points="274.30,76.05 271.70,71.55 276.90,71.55" fill="#cc88ff" fill-opacity="0.85"/>
<polygon points="277.20,75.75 274.60,71.25 279.80,71.25" fill="#cc88ff" fill-opacity="0.85"/>
<polygon points="273.10,78.65 270.50,74.15 275.70,74.15" fill="#cc88ff" fill-opacity="0.85"/>
<polygon points="267.00,84.25 264.40,79.75 269.60,79.75" fill="#cc88ff" fill-opacity="0.85"/>
<polygon points="273.40,84.85 270.80,80.35 276.00,80.35" fill="#cc88ff" fill-opacity="0.85"/>
<polygon points="278.40,85.95 275.80,81.45 281.00,81.45" fill="#cc88ff" fill-opacity="0.85"/>
<polygon points="310.90,113.35 308.30,108.85 313.50,108.85" fill="#40d0c0" fill-opacity="0.9"/>
<polygon points="287.60,130.35 285.00,125.85 290.20,125.85" fill="#40d0c0" fill-opacity="0.9"/>
<polygon points="289.90,131.75 287.30,127.25 292.50,127.25" fill="#40d0c0" fill-opacity="0.9"/>
<polygon points="277.20,138.75 274.60,134.25 279.80,134.25" fill="#40d0c0" fill-opacity="0.9"/>
<polygon points="255.50,147.45 252.90,142.95 258.10,142.95" fill="#40d0c0" fill-opacity="0.9"/>
<polygon points="245.70,166.55 243.10,162.05 248.30,162.05" fill="#40d0c0" fill-opacity="0.9"/>
<polygon points="236.90,169.75 234.30,165.25 239.50,165.25" fill="#40d0c0" fill-opacity="0.9"/>
<polygon points="235.60,176.95 233.00,172.45 238.20,172.45" fill="#40d0c0" fill-opacity="0.9"/>
<polygon points="226.90,178.55 224.30,174.05 229.50,174.05" fill="#40d0c0" fill-opacity="0.9"/>
<polygon points="223.20,175.35 220.60,170.85 225.80,170.85" fill="#40d0c0" fill-opacity="0.9"/>
<polygon points="217.00,179.35 214.40,174.85 219.60,174.85" fill="#40d0c0" fill-opacity="0.9"/>
<polygon points="209.40,178.25 206.80,173.75 212.00,173.75" fill="#40d0c0" fill-opacity="0.9"/>
<polygon points="191.60,183.65 189.00,179.15 194.20,179.15" fill="#40d0c0" fill-opacity="0.9"/>
<polygon points="219.70,183.65 217.10,179.15 222.30,179.15" fill="#40d0c0" fill-opacity="0.9"/>
<polygon points="150.50,220.70 155.00,218.10 155.00,223.30" fill="#40d0c0"/>
<polygon points="205.90,186.70 210.40,184.10 210.40,189.30" fill="#90e070"/>
<polygon points="219.50,180.20 224.00,177.60 224.00,182.80" fill="#90e070"/>
<polygon points="114.00,138.65 116.60,143.15 111.40,143.15" fill="#6aaa44"/>
<polygon points="141.40,145.65 144.00,150.15 138.80,150.15" fill="#6aaa44"/>
<rect x="96.90" y="152.50" width="6.00" height="6.00" fill="#f0c450"/>
<rect x="86.10" y="172.30" width="6.00" height="6.00" fill="#f0c450"/>
<rect x="81.80" y="177.90" width="6.00" height="6.00" fill="#f0c450"/>
<rect x="80.80" y="199.00" width="6.00" height="6.00" fill="#f0c450"/>
<polygon points="63.80,159.80 68.30,157.20 68.30,162.40" fill="#f0c030"/>
<polygon points="62.00,172.80 66.50,170.20 66.50,175.40" fill="#f0c030"/>
<polygon points="60.10,173.50 64.60,170.90 64.60,176.10" fill="#f0c030"/>
<polygon points="69.10,172.60 73.60,170.00 73.60,175.20" fill="#f0c030"/>
<polygon points="63.50,174.20 68.00,171.60 68.00,176.80" fill="#f0c030"/>
<path d="M66.20,183.00L70.60,187.40M66.20,187.40L70.60,183.00" stroke="#f8d080" stroke-width="0.6" fill="none"/>
<path d="M73.90,190.50L78.30,194.90M73.90,194.90L78.30,190.50" stroke="#f8d080" stroke-width="0.6" fill="none"/>
<path d="M77.60,190.50L82.00,194.90M77.60,194.90L82.00,190.50" stroke="#f8d080" stroke-width="0.6" fill="none"/>
<path d="M88.80,169.40L93.20,173.80M88.80,173.80L93.20,169.40" stroke="#f8d080" stroke-width="0.6" fill="none"/>
<polygon points="117.40,215.05 120.00,219.55 114.80,219.55" fill="#c89030" fill-opacity="0.85"/>
<polygon points="123.10,214.80 123.89,216.71 125.95,216.87 124.38,218.22 124.86,220.23 123.10,219.15 121.34,220.23 121.82,218.22 120.25,216.87 122.31,216.71" fill="#c89030" fill-opacity="0.85"/>
<polygon points="125.20,215.10 125.99,217.01 128.05,217.17 126.48,218.52 126.96,220.53 125.20,219.45 123.44,220.53 123.92,218.52 122.35,217.17 124.41,217.01" fill="#c89030" fill-opacity="0.85"/>
<polygon points="131.20,219.25 128.60,214.75 133.80,214.75" fill="#c89030" fill-opacity="0.85"/>
<polygon points="132.60,221.35 130.00,216.85 135.20,216.85" fill="#c89030" fill-opacity="0.85"/>
<polygon points="135.10,222.15 132.50,217.65 137.70,217.65" fill="#c89030" fill-opacity="0.85"/>
<rect x="121.60" y="220.10" width="5.20" height="5.20" fill="#c89030" fill-opacity="0.85"/>
<rect x="121.20" y="222.60" width="5.20" height="5.20" fill="#c89030" fill-opacity="0.85"/>
<polygon points="128.80,220.15 131.40,224.65 126.20,224.65" fill="#c89030" fill-opacity="0.85"/>
<rect x="131.50" y="226.20" width="5.20" height="5.20" fill="#c89030" fill-opacity="0.85"/>
<polygon points="136.50,231.65 133.90,227.15 139.10,227.15" fill="#c89030" fill-opacity="0.85"/>
<polygon points="144.10,227.30 139.60,229.90 139.60,224.70" fill="#c89030" fill-opacity="0.85"/>
<polygon points="145.20,228.80 140.70,231.40 140.70,226.20" fill="#c89030" fill-opacity="0.85"/>
<polygon points="132.10,233.40 127.60,236.00 127.60,230.80" fill="#c89030" fill-opacity="0.85"/>
<rect x="130.80" y="231.50" width="5.20" height="5.20" fill="#c89030" fill-opacity="0.85"/>
<rect x="132.50" y="231.80" width="5.20" height="5.20" fill="#c89030" fill-opacity="0.85"/>
<polygon points="138.00,237.65 135.40,233.15 140.60,233.15" fill="#c89030" fill-opacity="0.85"/>
<polygon points="137.40,236.20 141.90,233.60 141.90,238.80" fill="#c89030" fill-opacity="0.85"/>
<polygon points="145.00,232.10 145.79,234.01 147.85,234.17 146.28,235.52 146.76,237.53 145.00,236.45 143.24,237.53 143.72,235.52 142.15,234.17 144.21,234.01" fill="#c89030" fill-opacity="0.85"/>
<polygon points="120.30,231.40 121.09,233.31 123.15,233.47 121.58,234.82 122.06,236.83 120.30,235.75 118.54,236.83 119.02,234.82 117.45,233.47 119.51,233.31" fill="#c89030" fill-opacity="0.85"/>
<polygon points="136.70,241.10 141.20,238.50 141.20,243.70" fill="#c89030" fill-opacity="0.85"/>
<polygon points="132.10,242.90 127.60,245.50 127.60,240.30" fill="#c89030" fill-opacity="0.85"/>
<polygon points="129.60,246.10 134.10,243.50 134.10,248.70" fill="#c89030" fill-opacity="0.85"/>
<polygon points="138.90,201.03 136.22,196.38 141.58,196.38" fill="#ff5533" fill-opacity="0.9"/>
<polygon points="146.70,199.23 144.02,194.58 149.38,194.58" fill="#ff5533" fill-opacity="0.9"/>
<polygon points="147.30,206.03 144.62,201.38 149.98,201.38" fill="#ff5533" fill-opacity="0.9"/>
<polygon points="156.60,202.94 153.92,198.28 159.28,198.28" fill="#ff5533" fill-opacity="0.9"/>
<polygon points="147.90,215.23 145.22,210.58 150.58,210.58" fill="#ff5533" fill-opacity="0.9"/>
<rect x="149.70" y="183.40" width="6.40" height="6.40" fill="#ffab00"/>
<rect x="146.00" y="191.50" width="6.40" height="6.40" fill="#ffab00"/>
<rect x="147.20" y="194.00" width="6.40" height="6.40" fill="#ffab00"/>
<polygon points="157.00,187.00 160.40,190.40 157.00,193.80 153.60,190.40" fill="#f5a300" stroke="#222" stroke-width="0.5"/>
<polygon points="154.40,191.90 157.80,195.30 154.40,198.70 151.00,195.30" fill="#f5a300" stroke="#222" stroke-width="0.5"/>
<polygon points="151.60,196.00 155.00,199.40 151.60,202.80 148.20,199.40" fill="#f5a300" stroke="#222" stroke-width="0.5"/>
<polygon points="152.30,200.00 155.70,203.40 152.30,206.80 148.90,203.40" fill="#f5a300" stroke="#222" stroke-width="0.5"/>
<polygon points="188.00,183.30 191.30,186.60 188.00,189.90 184.70,186.60" fill="#138a5a" stroke="#222" stroke-width="0.5"/>
<polygon points="185.50,192.00 188.80,195.30 185.50,198.60 182.20,195.30" fill="#138a5a" stroke="#222" stroke-width="0.5"/>
<circle cx="118.40" cy="94.20" r="3.00" fill="#77aa44"/>
<circle cx="127.10" cy="91.80" r="3.00" fill="#77aa44"/>
<polygon points="131.50,90.85 134.10,95.35 128.90,95.35" fill="#6aaa44"/>
<polygon points="124.30,89.36 127.72,91.85 126.42,95.87 122.18,95.87 120.88,91.85" fill="#1a78ff" stroke="#111" stroke-width="0.5"/>
<polygon points="121.90,93.26 125.32,95.75 124.02,99.77 119.78,99.77 118.48,95.75" fill="#19b5fe" stroke="#111" stroke-width="0.5"/>
<polygon points="129.10,93.66 132.52,96.15 131.22,100.17 126.98,100.17 125.68,96.15" fill="#19b5fe" stroke="#111" stroke-width="0.5"/>
<polygon points="135.50,93.66 138.92,96.15 137.62,100.17 133.38,100.17 132.08,96.15" fill="#19b5fe" stroke="#111" stroke-width="0.5"/>
<polygon points="138.70,94.86 142.12,97.35 140.82,101.37 136.58,101.37 135.28,97.35" fill="#0a3cf0" stroke="#111" stroke-width="0.5"/>
<polygon points="124.30,100.46 127.72,102.95 126.42,106.97 122.18,106.97 120.88,102.95" fill="#0a3cf0" stroke="#111" stroke-width="0.5"/>
<polygon points="127.50,98.06 130.92,100.55 129.62,104.57 125.38,104.57 124.08,100.55" fill="#0a3cf0" stroke="#111" stroke-width="0.5"/>
<polygon points="133.10,100.46 136.52,102.95 135.22,106.97 130.98,106.97 129.68,102.95" fill="#19b5fe" stroke="#111" stroke-width="0.5"/>
<polygon points="137.90,98.06 141.32,100.55 140.02,104.57 135.78,104.57 134.48,100.55" fill="#0a3cf0" stroke="#111" stroke-width="0.5"/>
<polygon points="131.10,103.26 134.52,105.75 133.22,109.77 128.98,109.77 127.68,105.75" fill="#0a3cf0" stroke="#111" stroke-width="0.5"/>
<polygon points="140.70,105.26 144.12,107.75 142.82,111.77 138.58,111.77 137.28,107.75" fill="#1a78ff" stroke="#111" stroke-width="0.5"/>
<polygon points="131.50,108.06 134.92,110.55 133.62,114.57 129.38,114.57 128.08,110.55" fill="#19b5fe" stroke="#111" stroke-width="0.5"/>
<polygon points="137.10,109.66 140.52,112.15 139.22,116.17 134.98,116.17 133.68,112.15" fill="#1a78ff" stroke="#111" stroke-width="0.5"/>
<polygon points="135.00,104.76 138.42,107.25 137.12,111.27 132.88,111.27 131.58,107.25" fill="#19b5fe" stroke="#111" stroke-width="0.5"/>
<polygon points="128.00,104.76 131.42,107.25 130.12,111.27 125.88,111.27 124.58,107.25" fill="#0a3cf0" stroke="#111" stroke-width="0.5"/>
<polygon points="139.00,101.76 142.42,104.25 141.12,108.27 136.88,108.27 135.58,104.25" fill="#0a3cf0" stroke="#111" stroke-width="0.5"/>
<polygon points="134.00,112.76 137.42,115.25 136.12,119.27 131.88,119.27 130.58,115.25" fill="#1a78ff" stroke="#111" stroke-width="0.5"/>
<polygon points="129.50,111.76 132.92,114.25 131.62,118.27 127.38,118.27 126.08,114.25" fill="#0a3cf0" stroke="#111" stroke-width="0.5"/>
<polygon points="131.50,114.76 134.92,117.25 133.62,121.27 129.38,121.27 128.08,117.25" fill="#1a78ff" stroke="#111" stroke-width="0.5"/>
<polygon points="138.70,115.16 142.12,117.65 140.82,121.67 136.58,121.67 135.28,117.65" fill="#0a3cf0" stroke="#111" stroke-width="0.5"/>
<polygon points="145.00,121.96 148.42,124.45 147.12,128.47 142.88,128.47 141.58,124.45" fill="#1a78ff" stroke="#111" stroke-width="0.5"/>
<circle cx="146.60" cy="107.30" r="3.20" fill="#19b5fe"/>
<circle cx="151.80" cy="115.70" r="3.20" fill="#19b5fe"/>
<circle cx="135.10" cy="123.20" r="3.20" fill="#1a78ff"/>
<circle cx="126.70" cy="111.30" r="2.50" fill="#0a3cf0"/>
<circle cx="127.50" cy="115.30" r="2.50" fill="#0a3cf0"/>
<use href="#ga" x="351" y="0"/>
<polygon points="457.60,101.20 462.25,98.52 462.25,103.88" fill="#ee5fa8" fill-opacity="0.9"/>
<polygon points="466.50,104.27 469.18,108.92 463.82,108.92" fill="#ee5fa8" fill-opacity="0.9"/>
<polygon points="470.00,108.70 474.65,106.02 474.65,111.38" fill="#ee5fa8" fill-opacity="0.9"/>
<polygon points="452.30,116.20 447.65,118.88 447.65,113.52" fill="#ee5fa8" fill-opacity="0.9"/>
<polygon points="474.40,119.80 469.75,122.48 469.75,117.12" fill="#ee5fa8" fill-opacity="0.9"/>
<polygon points="455.40,129.56 458.08,134.22 452.72,134.22" fill="#ee5fa8" fill-opacity="0.9"/>
<polygon points="460.30,134.40 464.95,131.72 464.95,137.08" fill="#ee5fa8" fill-opacity="0.9"/>
<polygon points="455.80,133.10 451.15,135.78 451.15,130.42" fill="#ee5fa8" fill-opacity="0.9"/>
<polygon points="470.60,108.90 475.25,106.22 475.25,111.58" fill="#ee5fa8" fill-opacity="0.9"/>
<polygon points="470.50,110.37 473.18,115.02 467.82,115.02" fill="#ee5fa8" fill-opacity="0.9"/>
<polygon points="449.89,120.45 454.54,117.77 454.54,123.14" fill="#ee5fa8" fill-opacity="0.9"/>
<polygon points="450.06,119.17 452.74,123.82 447.37,123.82" fill="#ee5fa8" fill-opacity="0.9"/>
<polygon points="463.75,125.14 459.10,127.82 459.10,122.45" fill="#ee5fa8" fill-opacity="0.9"/>
<polygon points="453.22,115.26 457.87,112.58 457.87,117.95" fill="#ee5fa8" fill-opacity="0.9"/>
<polygon points="460.95,120.68 456.30,123.36 456.30,117.99" fill="#ee5fa8" fill-opacity="0.9"/>
<polygon points="451.38,111.46 456.03,108.78 456.03,114.15" fill="#ee5fa8" fill-opacity="0.9"/>
<polygon points="468.00,115.92 463.35,118.61 463.35,113.24" fill="#ee5fa8" fill-opacity="0.9"/>
<polygon points="457.91,110.65 453.26,113.34 453.26,107.97" fill="#ee5fa8" fill-opacity="0.9"/>
<polygon points="459.62,116.04 462.30,120.69 456.93,120.69" fill="#ee5fa8" fill-opacity="0.9"/>
<polygon points="449.07,111.39 453.72,108.71 453.72,114.08" fill="#ee5fa8" fill-opacity="0.9"/>
<polygon points="453.55,122.56 448.90,125.25 448.90,119.88" fill="#ee5fa8" fill-opacity="0.9"/>
<polygon points="458.89,120.76 461.57,125.41 456.20,125.41" fill="#ee5fa8" fill-opacity="0.9"/>
<polygon points="452.80,111.87 457.45,109.19 457.45,114.56" fill="#ee5fa8" fill-opacity="0.9"/>
<polygon points="453.75,119.91 456.44,124.56 451.07,124.56" fill="#ee5fa8" fill-opacity="0.9"/>
<polygon points="457.47,109.91 460.16,114.56 454.79,114.56" fill="#ee5fa8" fill-opacity="0.9"/>
<polygon points="460.50,117.87 455.85,120.56 455.85,115.19" fill="#ee5fa8" fill-opacity="0.9"/>
<polygon points="455.86,111.46 460.51,108.78 460.51,114.14" fill="#ee5fa8" fill-opacity="0.9"/>
<polygon points="453.03,128.71 448.38,131.39 448.38,126.02" fill="#ee5fa8" fill-opacity="0.9"/>
<polygon points="461.59,115.38 464.27,120.03 458.90,120.03" fill="#ee5fa8" fill-opacity="0.9"/>
<polygon points="443.01,121.42 447.66,118.73 447.66,124.10" fill="#ee5fa8" fill-opacity="0.9"/>
<polygon points="453.41,119.42 456.09,124.07 450.72,124.07" fill="#ee5fa8" fill-opacity="0.9"/>
<polygon points="459.14,110.29 461.82,114.94 456.45,114.94" fill="#ee5fa8" fill-opacity="0.9"/>
<polygon points="455.10,119.05 459.75,116.37 459.75,121.74" fill="#ee5fa8" fill-opacity="0.9"/>
<polygon points="458.61,112.11 461.30,116.76 455.93,116.76" fill="#ee5fa8" fill-opacity="0.9"/>
<polygon points="455.22,117.07 459.87,114.39 459.87,119.75" fill="#ee5fa8" fill-opacity="0.9"/>
<polygon points="462.42,114.11 457.77,116.80 457.77,111.43" fill="#ee5fa8" fill-opacity="0.9"/>
<polygon points="463.63,125.18 458.98,127.86 458.98,122.49" fill="#ee5fa8" fill-opacity="0.9"/>
<polygon points="455.97,111.27 460.62,108.59 460.62,113.96" fill="#ee5fa8" fill-opacity="0.9"/>
<polygon points="462.00,119.91 464.68,124.56 459.31,124.56" fill="#ee5fa8" fill-opacity="0.9"/>
<polygon points="470.59,118.04 465.94,120.72 465.94,115.35" fill="#ee5fa8" fill-opacity="0.9"/>
<polygon points="455.38,128.11 458.06,132.76 452.69,132.76" fill="#ee5fa8" fill-opacity="0.9"/>
<polygon points="467.32,137.87 462.67,140.56 462.67,135.19" fill="#ee5fa8" fill-opacity="0.9"/>
<polygon points="457.20,113.04 459.88,117.69 454.51,117.69" fill="#ee5fa8" fill-opacity="0.9"/>
<polygon points="462.40,122.89 457.75,125.58 457.75,120.21" fill="#ee5fa8" fill-opacity="0.9"/>
<polygon points="456.70,120.16 459.39,124.81 454.02,124.81" fill="#ee5fa8" fill-opacity="0.9"/>
<polygon points="464.35,120.00 459.70,122.69 459.70,117.32" fill="#ee5fa8" fill-opacity="0.9"/>
<polygon points="455.67,126.81 460.32,124.12 460.32,129.49" fill="#ee5fa8" fill-opacity="0.9"/>
<polygon points="459.91,115.65 455.26,118.33 455.26,112.96" fill="#ee5fa8" fill-opacity="0.9"/>
<polygon points="449.55,118.87 454.20,116.18 454.20,121.55" fill="#ee5fa8" fill-opacity="0.9"/>
<polygon points="459.57,118.80 462.25,123.45 456.88,123.45" fill="#ee5fa8" fill-opacity="0.9"/>
<polygon points="466.20,112.56 469.62,115.05 468.32,119.07 464.08,119.07 462.78,115.05" fill="#a8e6c0" stroke="#333" stroke-width="0.5"/>
<circle cx="541.50" cy="69.00" r="3.10" fill="#dd99ff" fill-opacity="0.85"/>
<circle cx="528.80" cy="76.00" r="3.10" fill="#dd99ff" fill-opacity="0.85"/>
<circle cx="513.90" cy="78.60" r="3.10" fill="#dd99ff" fill-opacity="0.85"/>
<circle cx="488.50" cy="100.10" r="3.10" fill="#dd99ff" fill-opacity="0.85"/>
<rect x="531.00" y="66.00" width="6.00" height="6.00" fill="#dd99ff" fill-opacity="0.85"/>
<rect x="524.40" y="80.40" width="7.00" height="7.00" fill="#dd99ff" fill-opacity="0.85"/>
<rect x="519.50" y="80.30" width="6.40" height="6.40" fill="#dd99ff" fill-opacity="0.85"/>
<path d="M504.30,78.60L510.30,78.60M505.18,76.48L509.42,80.72M507.30,75.60L507.30,81.60M509.42,76.48L505.18,80.72" stroke="#e8b8ff" stroke-width="0.55" fill="none"/>
<path d="M532.90,79.30L537.70,84.10M532.90,84.10L537.70,79.30" stroke="#e0a8ff" stroke-width="0.6" fill="none"/>
<line x1="537.50" y1="70.30" x2="499.08" y2="95.26" stroke="#7766ff" stroke-width="1.3" stroke-dasharray="2.6,1.6"/>
<polygon points="496.40,97.00 500.13,96.87 498.04,93.65" fill="#7766ff"/>
<polygon points="511.30,79.36 514.72,81.85 513.42,85.87 509.18,85.87 507.88,81.85" fill="#0a1a88" stroke="#000" stroke-width="0.5"/>
<polygon points="510.00,82.36 513.42,84.85 512.12,88.87 507.88,88.87 506.58,84.85" fill="#0a1a88" stroke="#000" stroke-width="0.5"/>
<polygon points="507.80,87.66 511.22,90.15 509.92,94.17 505.68,94.17 504.38,90.15" fill="#0a1a88" stroke="#000" stroke-width="0.5"/>
<polygon points="513.00,85.06 516.42,87.55 515.12,91.57 510.88,91.57 509.58,87.55" fill="#0a1a88" stroke="#000" stroke-width="0.5"/>
<polygon points="517.40,86.36 520.82,88.85 519.52,92.87 515.28,92.87 513.98,88.85" fill="#0a1a88" stroke="#000" stroke-width="0.5"/>
<polygon points="518.70,87.26 522.12,89.75 520.82,93.77 516.58,93.77 515.28,89.75" fill="#0a1a88" stroke="#000" stroke-width="0.5"/>
<polygon points="485.00,85.06 488.42,87.55 487.12,91.57 482.88,91.57 481.58,87.55" fill="#5aa0f0" stroke="#444" stroke-width="0.5"/>
<polygon points="488.50,87.66 491.92,90.15 490.62,94.17 486.38,94.17 485.08,90.15" fill="#5aa0f0" stroke="#444" stroke-width="0.5"/>
<polygon points="493.80,99.46 497.22,101.95 495.92,105.97 491.68,105.97 490.38,101.95" fill="#5aa0f0" stroke="#444" stroke-width="0.5"/>
<polygon points="493.80,86.58 497.41,89.21 496.03,93.45 491.57,93.45 490.19,89.21" fill="#000000"/>
<polygon points="493.30,88.78 496.91,91.41 495.53,95.65 491.07,95.65 489.69,91.41" fill="#000000"/>
<polygon points="509.90,102.70 505.40,105.30 505.40,100.10" fill="#f070b0" fill-opacity="0.85"/>
<polygon points="482.50,115.46 485.92,117.95 484.62,121.97 480.38,121.97 479.08,117.95" fill="#0a22cc" stroke="#111" stroke-width="0.5"/>
<circle cx="492.80" cy="125.60" r="3.30" fill="#0a22cc"/>
<circle cx="491.50" cy="129.90" r="3.30" fill="#0a22cc"/>
<line x1="468.20" y1="125.10" x2="482.34" y2="158.26" stroke="#ff33ee" stroke-width="1.4" stroke-dasharray="2.6,1.6"/>
<polygon points="483.60,161.20 484.11,157.50 480.58,159.01" fill="#ff33ee"/>
<line x1="490.00" y1="150.00" x2="484.90" y2="130.30" stroke="#ee44aa" stroke-width="1.4" stroke-dasharray="2.6,1.6"/>
<polygon points="484.10,127.20 483.04,130.78 486.76,129.82" fill="#ee44aa"/>
<polygon points="457.10,179.90 452.45,182.58 452.45,177.22" fill="#ffcc33" fill-opacity="0.9"/>
<polygon points="456.70,196.30 452.05,198.98 452.05,193.62" fill="#ffcc33" fill-opacity="0.9"/>
<polygon points="459.80,198.70 455.15,201.38 455.15,196.02" fill="#ffcc33" fill-opacity="0.9"/>
<polygon points="451.90,205.10 447.25,207.78 447.25,202.42" fill="#ffcc33" fill-opacity="0.9"/>
<polygon points="457.50,213.90 452.85,216.58 452.85,211.22" fill="#ffcc33" fill-opacity="0.9"/>
<polygon points="451.10,216.30 446.45,218.98 446.45,213.62" fill="#ffcc33" fill-opacity="0.9"/>
<polygon points="445.50,222.30 440.85,224.98 440.85,219.62" fill="#ffcc33" fill-opacity="0.9"/>
<polygon points="462.20,225.00 457.55,227.68 457.55,222.32" fill="#ffcc33" fill-opacity="0.9"/>
<polygon points="458.30,215.50 453.65,218.18 453.65,212.82" fill="#ffcc33" fill-opacity="0.9"/>
<polygon points="471.90,215.30 475.20,218.60 471.90,221.90 468.60,218.60" fill="#ffcc22" fill-opacity="0.85"/>
<polygon points="477.50,215.30 480.80,218.60 477.50,221.90 474.20,218.60" fill="#d99a2a" fill-opacity="0.85"/>
<polygon points="487.00,214.50 490.30,217.80 487.00,221.10 483.70,217.80" fill="#d99a2a" fill-opacity="0.85"/>
<polygon points="491.00,216.10 494.30,219.40 491.00,222.70 487.70,219.40" fill="#d99a2a" fill-opacity="0.85"/>
<polygon points="475.90,221.70 479.20,225.00 475.90,228.30 472.60,225.00" fill="#ffcc22" fill-opacity="0.85"/>
<polygon points="481.50,221.70 484.80,225.00 481.50,228.30 478.20,225.00" fill="#ffcc22" fill-opacity="0.85"/>
<polygon points="491.00,222.50 494.30,225.80 491.00,229.10 487.70,225.80" fill="#ffcc22" fill-opacity="0.85"/>
<polygon points="478.30,228.90 481.60,232.20 478.30,235.50 475.00,232.20" fill="#d99a2a" fill-opacity="0.85"/>
<polygon points="483.90,227.30 487.20,230.60 483.90,233.90 480.60,230.60" fill="#ffcc22" fill-opacity="0.85"/>
<polygon points="487.80,230.50 491.10,233.80 487.80,237.10 484.50,233.80" fill="#ffcc22" fill-opacity="0.85"/>
<polygon points="489.40,235.30 492.70,238.60 489.40,241.90 486.10,238.60" fill="#d99a2a" fill-opacity="0.85"/>
<polygon points="485.50,236.90 488.80,240.20 485.50,243.50 482.20,240.20" fill="#d99a2a" fill-opacity="0.85"/>
<polygon points="492.60,241.70 495.90,245.00 492.60,248.30 489.30,245.00" fill="#d99a2a" fill-opacity="0.85"/>
<polygon points="487.80,243.30 491.10,246.60 487.80,249.90 484.50,246.60" fill="#d99a2a" fill-opacity="0.85"/>
<polygon points="495.80,246.40 499.10,249.70 495.80,253.00 492.50,249.70" fill="#d99a2a" fill-opacity="0.85"/>
<polygon points="499.80,248.80 503.10,252.10 499.80,255.40 496.50,252.10" fill="#d99a2a" fill-opacity="0.85"/>
<polygon points="490.20,252.80 493.50,256.10 490.20,259.40 486.90,256.10" fill="#d99a2a" fill-opacity="0.85"/>
<polygon points="499.80,226.50 503.10,229.80 499.80,233.10 496.50,229.80" fill="#d99a2a" fill-opacity="0.85"/>
<polygon points="485.00,236.30 488.30,239.60 485.00,242.90 481.70,239.60" fill="#d99a2a" fill-opacity="0.85"/>
<polygon points="483.20,237.40 486.50,240.70 483.20,244.00 479.90,240.70" fill="#d99a2a" fill-opacity="0.85"/>
<polygon points="486.10,243.20 489.40,246.50 486.10,249.80 482.80,246.50" fill="#d99a2a" fill-opacity="0.85"/>
<polygon points="491.80,242.60 495.10,245.90 491.80,249.20 488.50,245.90" fill="#d99a2a" fill-opacity="0.85"/>
<polygon points="494.70,246.10 498.00,249.40 494.70,252.70 491.40,249.40" fill="#d99a2a" fill-opacity="0.85"/>
<polygon points="490.10,253.00 493.40,256.30 490.10,259.60 486.80,256.30" fill="#d99a2a" fill-opacity="0.85"/>
<polygon points="500.50,248.90 503.80,252.20 500.50,255.50 497.20,252.20" fill="#d99a2a" fill-opacity="0.85"/>
<polygon points="490.70,246.70 494.00,250.00 490.70,253.30 487.40,250.00" fill="#d99a2a" fill-opacity="0.85"/>
<polygon points="472.70,216.00 476.00,219.30 472.70,222.60 469.40,219.30" fill="#ffcc22" fill-opacity="0.85"/>
<polygon points="488.10,215.00 491.40,218.30 488.10,221.60 484.80,218.30" fill="#d99a2a" fill-opacity="0.85"/>
<polygon points="476.40,221.30 479.70,224.60 476.40,227.90 473.10,224.60" fill="#ffcc22" fill-opacity="0.85"/>
<polygon points="480.60,225.60 483.90,228.90 480.60,232.20 477.30,228.90" fill="#ffcc22" fill-opacity="0.85"/>
<polygon points="485.90,226.70 489.20,230.00 485.90,233.30 482.60,230.00" fill="#ffcc22" fill-opacity="0.85"/>
<polygon points="477.40,228.80 480.70,232.10 477.40,235.40 474.10,232.10" fill="#d99a2a" fill-opacity="0.85"/>
<polygon points="483.80,229.80 487.10,233.10 483.80,236.40 480.50,233.10" fill="#ffcc22" fill-opacity="0.85"/>
<polygon points="489.10,230.90 492.40,234.20 489.10,237.50 485.80,234.20" fill="#d99a2a" fill-opacity="0.85"/>
<polygon points="495.50,232.00 498.80,235.30 495.50,238.60 492.20,235.30" fill="#d99a2a" fill-opacity="0.85"/>
<polygon points="481.00,217.70 484.30,221.00 481.00,224.30 477.70,221.00" fill="#d99a2a" fill-opacity="0.85"/>
<polygon points="474.00,224.70 477.30,228.00 474.00,231.30 470.70,228.00" fill="#d99a2a" fill-opacity="0.85"/>
<polygon points="479.00,232.70 482.30,236.00 479.00,239.30 475.70,236.00" fill="#d99a2a" fill-opacity="0.85"/>
<polygon points="483.00,240.70 486.30,244.00 483.00,247.30 479.70,244.00" fill="#d99a2a" fill-opacity="0.85"/>
<polygon points="488.00,248.70 491.30,252.00 488.00,255.30 484.70,252.00" fill="#d99a2a" fill-opacity="0.85"/>
<polygon points="494.00,236.70 497.30,240.00 494.00,243.30 490.70,240.00" fill="#d99a2a" fill-opacity="0.85"/>
<polygon points="497.00,240.70 500.30,244.00 497.00,247.30 493.70,244.00" fill="#d99a2a" fill-opacity="0.85"/>
<polygon points="481.00,234.70 484.30,238.00 481.00,241.30 477.70,238.00" fill="#ffcc22" fill-opacity="0.85"/>
<polygon points="486.00,222.70 489.30,226.00 486.00,229.30 482.70,226.00" fill="#ffcc22" fill-opacity="0.85"/>
<polygon points="493.00,226.70 496.30,230.00 493.00,233.30 489.70,230.00" fill="#ffcc22" fill-opacity="0.85"/>
<polygon points="475.50,232.70 478.80,236.00 475.50,239.30 472.20,236.00" fill="#d99a2a" fill-opacity="0.85"/>
<polygon points="502.30,220.40 497.65,223.08 497.65,217.72" fill="#40d0c0"/>
<polygon points="499.70,227.80 495.05,230.48 495.05,225.12" fill="#40d0c0"/>
<polygon points="497.50,233.10 492.85,235.78 492.85,230.42" fill="#40d0c0"/>
<polygon points="503.60,243.00 498.95,245.68 498.95,240.32" fill="#40d0c0"/>
<polygon points="495.80,231.60 498.80,234.60 495.80,237.60 492.80,234.60" fill="#aadd55" fill-opacity="0.8"/>
<circle cx="518.90" cy="189.60" r="3.30" fill="#40d0c0"/>
<polygon points="526.90,186.40 530.10,189.60 526.90,192.80 523.70,189.60" fill="#40d0c0" fill-opacity="0.9"/>
<polygon points="515.70,201.20 518.90,204.40 515.70,207.60 512.50,204.40" fill="#40d0c0" fill-opacity="0.9"/>
<polygon points="519.40,199.60 522.60,202.80 519.40,206.00 516.20,202.80" fill="#40d0c0" fill-opacity="0.9"/>
<polygon points="513.60,205.50 516.80,208.70 513.60,211.90 510.40,208.70" fill="#40d0c0" fill-opacity="0.9"/>
<polygon points="516.80,205.00 520.00,208.20 516.80,211.40 513.60,208.20" fill="#40d0c0" fill-opacity="0.9"/>
<polygon points="517.80,208.70 521.00,211.90 517.80,215.10 514.60,211.90" fill="#40d0c0" fill-opacity="0.9"/>
<polygon points="515.20,210.80 518.40,214.00 515.20,217.20 512.00,214.00" fill="#40d0c0" fill-opacity="0.9"/>
<polygon points="534.30,210.30 537.50,213.50 534.30,216.70 531.10,213.50" fill="#40d0c0" fill-opacity="0.9"/>
<polygon points="512.00,201.80 515.20,205.00 512.00,208.20 508.80,205.00" fill="#40d0c0" fill-opacity="0.9"/>
<path d="M564.40,179.60L569.60,179.60M565.16,177.76L568.84,181.44M567.00,177.00L567.00,182.20M568.84,177.76L565.16,181.44" stroke="#84e648" stroke-width="0.55" fill="none"/>
<path d="M562.40,186.00L567.60,186.00M563.16,184.16L566.84,187.84M565.00,183.40L565.00,188.60M566.84,184.16L563.16,187.84" stroke="#84e648" stroke-width="0.55" fill="none"/>
<path d="M527.80,192.90L533.00,192.90M528.56,191.06L532.24,194.74M530.40,190.30L530.40,195.50M532.24,191.06L528.56,194.74" stroke="#84e648" stroke-width="0.55" fill="none"/>
<path d="M525.10,206.20L530.30,206.20M525.86,204.36L529.54,208.04M527.70,203.60L527.70,208.80M529.54,204.36L525.86,208.04" stroke="#84e648" stroke-width="0.55" fill="none"/>
<path d="M520.00,183.20L525.20,183.20M520.76,181.36L524.44,185.04M522.60,180.60L522.60,185.80M524.44,181.36L520.76,185.04" stroke="#84e648" stroke-width="0.55" fill="none"/>
<path d="M525.30,206.60L530.50,206.60M526.06,204.76L529.74,208.44M527.90,204.00L527.90,209.20M529.74,204.76L526.06,208.44" stroke="#84e648" stroke-width="0.55" fill="none"/>
<path d="M549.83,175.76L555.03,175.76M550.59,173.92L554.27,177.60M552.43,173.16L552.43,178.36M554.27,173.92L550.59,177.60" stroke="#84e648" stroke-width="0.5" fill="none"/>
<path d="M542.66,182.24L547.86,182.24M543.42,180.41L547.10,184.08M545.26,179.64L545.26,184.84M547.10,180.41L543.42,184.08" stroke="#84e648" stroke-width="0.5" fill="none"/>
<path d="M544.41,178.75L549.61,178.75M545.18,176.91L548.85,180.59M547.01,176.15L547.01,181.35M548.85,176.91L545.18,180.59" stroke="#84e648" stroke-width="0.5" fill="none"/>
<path d="M549.29,187.59L554.49,187.59M550.05,185.75L553.73,189.43M551.89,184.99L551.89,190.19M553.73,185.75L550.05,189.43" stroke="#84e648" stroke-width="0.5" fill="none"/>
<path d="M546.65,187.73L551.85,187.73M547.41,185.89L551.09,189.56M549.25,185.13L549.25,190.33M551.09,185.89L547.41,189.56" stroke="#84e648" stroke-width="0.5" fill="none"/>
<path d="M549.24,183.84L554.44,183.84M550.00,182.00L553.68,185.68M551.84,181.24L551.84,186.44M553.68,182.00L550.00,185.68" stroke="#84e648" stroke-width="0.5" fill="none"/>
<path d="M552.82,179.48L558.02,179.48M553.59,177.64L557.26,181.31M555.42,176.88L555.42,182.08M557.26,177.64L553.59,181.31" stroke="#84e648" stroke-width="0.5" fill="none"/>
<path d="M552.37,176.52L557.57,176.52M553.13,174.68L556.81,178.36M554.97,173.92L554.97,179.12M556.81,174.68L553.13,178.36" stroke="#84e648" stroke-width="0.5" fill="none"/>
<path d="M549.67,185.62L554.87,185.62M550.43,183.78L554.11,187.46M552.27,183.02L552.27,188.22M554.11,183.78L550.43,187.46" stroke="#84e648" stroke-width="0.5" fill="none"/>
<path d="M558.30,183.74L563.50,183.74M559.06,181.90L562.74,185.58M560.90,181.14L560.90,186.34M562.74,181.90L559.06,185.58" stroke="#84e648" stroke-width="0.5" fill="none"/>
<path d="M549.02,181.94L554.22,181.94M549.78,180.10L553.46,183.78M551.62,179.34L551.62,184.54M553.46,180.10L549.78,183.78" stroke="#84e648" stroke-width="0.5" fill="none"/>
<path d="M549.01,182.47L554.21,182.47M549.77,180.63L553.45,184.31M551.61,179.87L551.61,185.07M553.45,180.63L549.77,184.31" stroke="#84e648" stroke-width="0.5" fill="none"/>
<path d="M550.62,180.33L555.82,180.33M551.39,178.49L555.06,182.17M553.22,177.73L553.22,182.93M555.06,178.49L551.39,182.17" stroke="#84e648" stroke-width="0.5" fill="none"/>
<path d="M546.88,191.38L552.08,191.38M547.65,189.54L551.32,193.22M549.48,188.78L549.48,193.98M551.32,189.54L547.65,193.22" stroke="#84e648" stroke-width="0.5" fill="none"/>
<path d="M552.57,184.20L557.77,184.20M553.33,182.36L557.01,186.04M555.17,181.60L555.17,186.80M557.01,182.36L553.33,186.04" stroke="#84e648" stroke-width="0.5" fill="none"/>
<path d="M546.16,191.00L551.36,191.00M546.92,189.16L550.60,192.84M548.76,188.40L548.76,193.60M550.60,189.16L546.92,192.84" stroke="#84e648" stroke-width="0.5" fill="none"/>
<path d="M559.59,183.20L564.79,183.20M560.35,181.37L564.03,185.04M562.19,180.60L562.19,185.80M564.03,181.37L560.35,185.04" stroke="#84e648" stroke-width="0.5" fill="none"/>
<path d="M552.74,175.62L557.94,175.62M553.50,173.78L557.18,177.45M555.34,173.02L555.34,178.22M557.18,173.78L553.50,177.45" stroke="#84e648" stroke-width="0.5" fill="none"/>
<path d="M556.41,188.58L561.61,188.58M557.17,186.74L560.85,190.42M559.01,185.98L559.01,191.18M560.85,186.74L557.17,190.42" stroke="#84e648" stroke-width="0.5" fill="none"/>
<path d="M545.52,174.99L550.72,174.99M546.29,173.15L549.96,176.82M548.12,172.39L548.12,177.59M549.96,173.15L546.29,176.82" stroke="#84e648" stroke-width="0.5" fill="none"/>
<path d="M548.00,184.67L553.20,184.67M548.76,182.83L552.44,186.51M550.60,182.07L550.60,187.27M552.44,182.83L548.76,186.51" stroke="#84e648" stroke-width="0.5" fill="none"/>
<path d="M553.07,181.45L558.27,181.45M553.83,179.61L557.50,183.29M555.67,178.85L555.67,184.05M557.50,179.61L553.83,183.29" stroke="#84e648" stroke-width="0.5" fill="none"/>
<path d="M551.32,183.88L556.52,183.88M552.08,182.04L555.76,185.72M553.92,181.28L553.92,186.48M555.76,182.04L552.08,185.72" stroke="#84e648" stroke-width="0.5" fill="none"/>
<path d="M555.64,182.40L560.84,182.40M556.40,180.57L560.08,184.24M558.24,179.80L558.24,185.00M560.08,180.57L556.40,184.24" stroke="#84e648" stroke-width="0.5" fill="none"/>
<path d="M547.96,189.12L553.16,189.12M548.72,187.28L552.40,190.96M550.56,186.52L550.56,191.72M552.40,187.28L548.72,190.96" stroke="#84e648" stroke-width="0.5" fill="none"/>
<path d="M554.01,181.54L559.21,181.54M554.77,179.70L558.45,183.38M556.61,178.94L556.61,184.14M558.45,179.70L554.77,183.38" stroke="#84e648" stroke-width="0.5" fill="none"/>
<path d="M546.81,183.15L552.01,183.15M547.57,181.31L551.25,184.98M549.41,180.55L549.41,185.75M551.25,181.31L547.57,184.98" stroke="#84e648" stroke-width="0.5" fill="none"/>
<path d="M554.98,181.94L560.18,181.94M555.74,180.11L559.42,183.78M557.58,179.34L557.58,184.54M559.42,180.11L555.74,183.78" stroke="#84e648" stroke-width="0.5" fill="none"/>
<path d="M550.11,181.62L555.31,181.62M550.87,179.79L554.55,183.46M552.71,179.02L552.71,184.22M554.55,179.79L550.87,183.46" stroke="#84e648" stroke-width="0.5" fill="none"/>
<path d="M550.37,183.38L555.57,183.38M551.13,181.54L554.81,185.22M552.97,180.78L552.97,185.98M554.81,181.54L551.13,185.22" stroke="#84e648" stroke-width="0.5" fill="none"/>
<path d="M545.11,179.81L550.31,179.81M545.87,177.97L549.55,181.65M547.71,177.21L547.71,182.41M549.55,177.97L545.87,181.65" stroke="#84e648" stroke-width="0.5" fill="none"/>
<path d="M547.97,190.42L553.17,190.42M548.73,188.58L552.41,192.26M550.57,187.82L550.57,193.02M552.41,188.58L548.73,192.26" stroke="#84e648" stroke-width="0.5" fill="none"/>
<path d="M555.61,180.03L560.81,180.03M556.37,178.19L560.05,181.87M558.21,177.43L558.21,182.63M560.05,178.19L556.37,181.87" stroke="#84e648" stroke-width="0.5" fill="none"/>
<path d="M550.33,183.87L555.53,183.87M551.09,182.04L554.77,185.71M552.93,181.27L552.93,186.47M554.77,182.04L551.09,185.71" stroke="#84e648" stroke-width="0.5" fill="none"/>
<path d="M544.00,192.00L548.00,196.00M544.00,196.00L548.00,192.00" stroke="#9ef070" stroke-width="0.5" fill="none"/>
<path d="M541.50,195.00L545.50,199.00M541.50,199.00L545.50,195.00" stroke="#9ef070" stroke-width="0.5" fill="none"/>
<path d="M544.50,197.50L548.50,201.50M544.50,201.50L548.50,197.50" stroke="#9ef070" stroke-width="0.5" fill="none"/>
<path d="M542.00,201.00L546.00,205.00M542.00,205.00L546.00,201.00" stroke="#9ef070" stroke-width="0.5" fill="none"/>
<path d="M543.00,204.50L547.00,208.50M543.00,208.50L547.00,204.50" stroke="#9ef070" stroke-width="0.5" fill="none"/>
<path d="M541.00,207.00L545.00,211.00M541.00,211.00L545.00,207.00" stroke="#9ef070" stroke-width="0.5" fill="none"/>
<path d="M546.00,194.50L550.00,198.50M546.00,198.50L550.00,194.50" stroke="#9ef070" stroke-width="0.5" fill="none"/>
<path d="M548.00,191.00L552.00,195.00M548.00,195.00L552.00,191.00" stroke="#9ef070" stroke-width="0.5" fill="none"/>
<path d="M539.50,198.00L543.50,202.00M539.50,202.00L543.50,198.00" stroke="#9ef070" stroke-width="0.5" fill="none"/>
<polygon points="493.50,182.10 498.15,179.42 498.15,184.78" fill="#ff4422" fill-opacity="0.9"/>
<polygon points="501.80,185.30 497.15,187.98 497.15,182.62" fill="#ff4422" fill-opacity="0.9"/>
<polygon points="493.50,191.70 498.15,189.02 498.15,194.38" fill="#ff4422" fill-opacity="0.9"/>
<polygon points="501.30,195.90 496.65,198.58 496.65,193.22" fill="#ff4422" fill-opacity="0.9"/>
<polygon points="498.60,202.30 493.95,204.98 493.95,199.62" fill="#ff4422" fill-opacity="0.9"/>
<polygon points="491.30,189.60 495.95,186.92 495.95,192.28" fill="#ff4422" fill-opacity="0.9"/>
<polygon points="488.90,178.00 493.55,175.32 493.55,180.68" fill="#ff4422" fill-opacity="0.9"/>
<polygon points="500.10,178.00 495.45,180.68 495.45,175.32" fill="#ff4422" fill-opacity="0.9"/>
<polygon points="495.90,190.00 500.55,187.32 500.55,192.68" fill="#ff4422" fill-opacity="0.9"/>
<polygon points="497.10,196.00 492.45,198.68 492.45,193.32" fill="#ff4422" fill-opacity="0.9"/>
<polygon points="491.90,186.00 496.55,183.32 496.55,188.68" fill="#ff4422" fill-opacity="0.9"/>
<polygon points="500.60,188.00 495.95,190.68 495.95,185.32" fill="#ff4422" fill-opacity="0.9"/>
<polygon points="492.90,194.00 497.55,191.32 497.55,196.68" fill="#ff4422" fill-opacity="0.9"/>
<polygon points="501.10,198.00 496.45,200.68 496.45,195.32" fill="#ff4422" fill-opacity="0.9"/>
<polygon points="491.40,199.00 496.05,196.32 496.05,201.68" fill="#ff4422" fill-opacity="0.9"/>
<polygon points="502.60,182.00 497.95,184.68 497.95,179.32" fill="#ff4422" fill-opacity="0.9"/>
<polygon points="489.90,183.00 494.55,180.32 494.55,185.68" fill="#ff4422" fill-opacity="0.9"/>
<rect x="487.70" y="185.50" width="6.00" height="6.00" fill="#f58080"/>
<rect x="487.20" y="188.60" width="6.00" height="6.00" fill="#f58080"/>
<rect x="486.50" y="191.00" width="6.00" height="6.00" fill="#f58080"/>
<rect x="498.30" y="187.60" width="6.00" height="6.00" fill="#f03c96"/>
<rect x="501.00" y="191.90" width="6.00" height="6.00" fill="#f03c96"/>
<rect x="499.00" y="194.00" width="6.00" height="6.00" fill="#f03c96"/>
<polygon points="502.90,204.85 500.30,200.35 505.50,200.35" fill="#f03c96"/>
<polygon points="495.30,146.26 498.72,148.75 497.42,152.77 493.18,152.77 491.88,148.75" fill="#cfcfcf" stroke="#555" stroke-width="0.5"/>
<polygon points="490.40,153.50 494.00,157.10 490.40,160.70 486.80,157.10" fill="#f07070" stroke="#333" stroke-width="0.5"/>
<polygon points="480.20,162.30 483.80,165.90 480.20,169.50 476.60,165.90" fill="#f07070" stroke="#333" stroke-width="0.5"/>
<polygon points="481.10,163.70 484.70,167.30 481.10,170.90 477.50,167.30" fill="#f07070" stroke="#333" stroke-width="0.5"/>
<polygon points="488.60,160.60 492.20,164.20 488.60,167.80 485.00,164.20" fill="#f07070" stroke="#333" stroke-width="0.5"/>
<polygon points="487.30,166.30 490.90,169.90 487.30,173.50 483.70,169.90" fill="#f07070" stroke="#333" stroke-width="0.5"/>
<polygon points="485.00,171.60 488.60,175.20 485.00,178.80 481.40,175.20" fill="#f07070" stroke="#333" stroke-width="0.5"/>
<polygon points="492.60,181.80 496.20,185.40 492.60,189.00 489.00,185.40" fill="#f07070" stroke="#333" stroke-width="0.5"/>
<polygon points="493.90,160.70 497.40,164.20 493.90,167.70 490.40,164.20" fill="#a8508a" stroke="#333" stroke-width="0.5"/>
<polygon points="491.20,164.30 494.60,167.70 491.20,171.10 487.80,167.70" fill="#f03c96" stroke="#333" stroke-width="0.5"/>
<polygon points="502.70,173.10 506.10,176.50 502.70,179.90 499.30,176.50" fill="#f03c96" stroke="#333" stroke-width="0.5"/>
<polygon points="492.60,170.50 496.00,173.90 492.60,177.30 489.20,173.90" fill="#ffaaf0" stroke="#444" stroke-width="0.5"/>
<polygon points="492.60,173.60 496.00,177.00 492.60,180.40 489.20,177.00" fill="#ffaaf0" stroke="#444" stroke-width="0.5"/>
<polygon points="484.60,175.80 488.00,179.20 484.60,182.60 481.20,179.20" fill="#ffaaf0" stroke="#444" stroke-width="0.5"/>
<polygon points="488.60,178.50 492.00,181.90 488.60,185.30 485.20,181.90" fill="#ffaaf0" stroke="#444" stroke-width="0.5"/>
<polygon points="500.10,164.60 503.60,168.10 500.10,171.60 496.60,168.10" fill="#ffe400" stroke="#222" stroke-width="0.5"/>
<polygon points="506.70,186.10 510.20,189.60 506.70,193.10 503.20,189.60" fill="#ffe400" stroke="#222" stroke-width="0.5"/>
<polygon points="513.00,188.70 516.50,192.20 513.00,195.70 509.50,192.20" fill="#ffe400" stroke="#222" stroke-width="0.5"/>
<polygon points="511.40,193.50 514.90,197.00 511.40,200.50 507.90,197.00" fill="#ffe400" stroke="#222" stroke-width="0.5"/>
</svg></body></html>
